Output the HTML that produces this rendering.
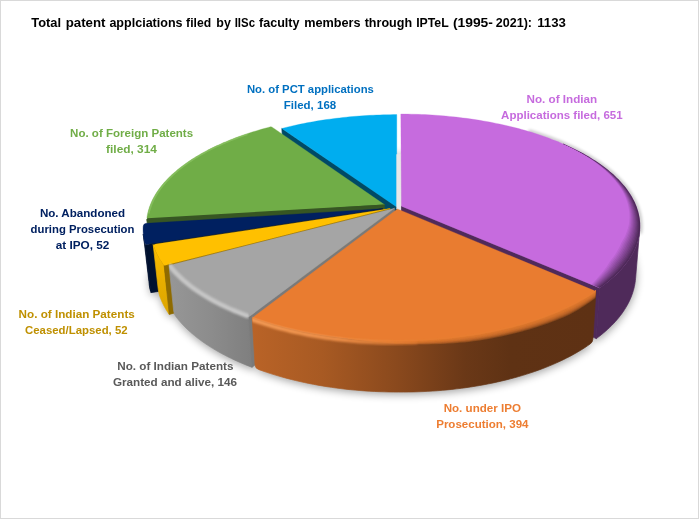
<!DOCTYPE html>
<html><head><meta charset="utf-8"><title>Chart</title>
<style>
html,body{margin:0;padding:0;background:#fff;}
body{width:699px;height:519px;position:relative;overflow:hidden;font-family:"Liberation Sans",sans-serif;}
#frame{position:absolute;left:0;top:0;width:697px;height:517px;border:1px solid #D9D9D9;}
</style></head><body>
<svg width="699" height="519" viewBox="0 0 699 519" style="position:absolute;left:0;top:0">
<defs>
<filter id="shb" x="-20%" y="-30%" width="140%" height="160%"><feGaussianBlur stdDeviation="4"/></filter>
<filter id="b05" x="-10%" y="-10%" width="120%" height="120%"><feGaussianBlur stdDeviation="0.5"/></filter>
<filter id="b1" x="-10%" y="-10%" width="120%" height="120%"><feGaussianBlur stdDeviation="0.8"/></filter>
<filter id="b2" x="-10%" y="-10%" width="120%" height="120%"><feGaussianBlur stdDeviation="1.6"/></filter>
<filter id="b3" x="-10%" y="-10%" width="120%" height="120%"><feGaussianBlur stdDeviation="2.6"/></filter>
<linearGradient id="gOr" gradientUnits="userSpaceOnUse" x1="253" y1="0" x2="596" y2="0">
 <stop offset="0" stop-color="#B96327"/><stop offset="0.2" stop-color="#A85A23"/><stop offset="0.42" stop-color="#8A491D"/><stop offset="0.62" stop-color="#6A3817"/><stop offset="0.75" stop-color="#5F3214"/><stop offset="1" stop-color="#5E3114"/></linearGradient>
<linearGradient id="gOrHi" gradientUnits="userSpaceOnUse" x1="253" y1="0" x2="596" y2="0">
 <stop offset="0" stop-color="#F39A55" stop-opacity="1"/><stop offset="0.25" stop-color="#F0914A" stop-opacity="0.95"/><stop offset="0.42" stop-color="#EC8438" stop-opacity="0.7"/><stop offset="0.55" stop-color="#E97C30" stop-opacity="0"/></linearGradient>
<linearGradient id="gOrDk" gradientUnits="userSpaceOnUse" x1="253" y1="0" x2="596" y2="0">
 <stop offset="0.45" stop-color="#6A3817" stop-opacity="0"/><stop offset="0.62" stop-color="#643516" stop-opacity="0.8"/><stop offset="1" stop-color="#5E3114" stop-opacity="1"/></linearGradient>
<linearGradient id="gGr" gradientUnits="userSpaceOnUse" x1="168" y1="0" x2="254" y2="0">
 <stop offset="0" stop-color="#979797"/><stop offset="0.5" stop-color="#8C8C8C"/><stop offset="1" stop-color="#7E7E7E"/></linearGradient>
<linearGradient id="gYe" gradientUnits="userSpaceOnUse" x1="0" y1="246" x2="0" y2="315">
 <stop offset="0" stop-color="#FBBC00"/><stop offset="0.5" stop-color="#E8AE00"/><stop offset="1" stop-color="#DCA500"/></linearGradient>
<linearGradient id="gPuDk" gradientUnits="userSpaceOnUse" x1="520" y1="0" x2="640" y2="0">
 <stop offset="0" stop-color="#4F2A5A" stop-opacity="0"/><stop offset="0.6" stop-color="#4F2A5A" stop-opacity="0.85"/><stop offset="1" stop-color="#4F2A5A" stop-opacity="1"/></linearGradient>

<clipPath id="cPu"><path d="M401.49 206.24 L400.81 113.92 L404.30 113.93 L407.79 113.97 L411.28 114.03 L414.77 114.11 L418.25 114.22 L421.74 114.35 L425.22 114.51 L428.69 114.69 L432.17 114.89 L435.63 115.12 L439.09 115.37 L442.55 115.64 L446.00 115.94 L449.44 116.26 L452.87 116.61 L456.29 116.98 L459.70 117.38 L463.11 117.79 L466.50 118.23 L469.88 118.70 L473.25 119.19 L476.61 119.70 L479.95 120.24 L483.28 120.80 L486.60 121.38 L489.90 121.99 L493.19 122.62 L496.46 123.28 L499.71 123.95 L502.94 124.66 L506.16 125.38 L509.35 126.13 L512.53 126.90 L515.69 127.70 L518.82 128.52 L521.94 129.36 L525.03 130.22 L528.10 131.11 L531.14 132.02 L534.16 132.95 L537.16 133.91 L540.12 134.89 L543.07 135.89 L545.98 136.92 L548.87 137.97 L551.72 139.04 L554.55 140.13 L557.35 141.24 L560.11 142.38 L562.84 143.54 L565.55 144.72 L568.21 145.93 L570.84 147.15 L573.44 148.40 L576.00 149.67 L578.53 150.96 L581.01 152.27 L583.46 153.60 L585.87 154.95 L588.24 156.33 L590.57 157.72 L592.86 159.14 L595.10 160.57 L597.30 162.03 L599.46 163.50 L601.57 165.00 L603.63 166.51 L605.65 168.04 L607.62 169.60 L609.54 171.17 L611.41 172.76 L613.23 174.37 L615.00 175.99 L616.72 177.64 L618.38 179.30 L619.99 180.98 L621.55 182.67 L623.05 184.39 L624.49 186.11 L625.88 187.86 L627.21 189.62 L628.48 191.39 L629.68 193.18 L630.83 194.99 L631.92 196.80 L632.94 198.64 L633.90 200.48 L634.79 202.34 L635.62 204.21 L636.38 206.09 L637.08 207.99 L637.71 209.89 L638.27 211.81 L638.76 213.73 L639.18 215.67 L639.53 217.61 L639.80 219.56 L640.01 221.52 L640.14 223.49 L640.20 225.46 L640.18 227.44 L640.09 229.43 L639.92 231.42 L639.67 233.41 L639.35 235.41 L638.95 237.41 L638.47 239.42 L637.91 241.42 L637.27 243.43 L636.55 245.43 L635.75 247.44 L634.87 249.44 L633.91 251.45 L632.87 253.45 L631.75 255.44 L630.54 257.43 L629.25 259.42 L627.87 261.40 L626.42 263.37 L624.88 265.34 L623.26 267.30 L621.55 269.25 L619.76 271.18 L617.89 273.11 L615.93 275.03 L613.89 276.93 L611.77 278.82 L609.56 280.69 L607.27 282.55 L604.90 284.40 L602.44 286.22 L599.91 288.03 Z"/></clipPath>
<clipPath id="cGn"><path d="M384.37 204.60 L146.72 219.25 L146.96 217.32 L147.27 215.39 L147.66 213.48 L148.11 211.57 L148.64 209.67 L149.23 207.78 L149.89 205.90 L150.61 204.03 L151.40 202.17 L152.26 200.33 L153.18 198.49 L154.16 196.67 L155.21 194.86 L156.32 193.07 L157.48 191.29 L158.71 189.52 L160.00 187.77 L161.34 186.04 L162.75 184.31 L164.20 182.61 L165.72 180.92 L167.29 179.25 L168.91 177.59 L170.59 175.95 L172.31 174.33 L174.09 172.72 L175.92 171.13 L177.80 169.56 L179.73 168.01 L181.70 166.48 L183.72 164.97 L185.79 163.47 L187.91 161.99 L190.06 160.54 L192.26 159.10 L194.51 157.68 L196.79 156.29 L199.12 154.91 L201.48 153.55 L203.89 152.21 L206.33 150.90 L208.81 149.60 L211.33 148.33 L213.89 147.07 L216.48 145.84 L219.10 144.63 L221.76 143.44 L224.45 142.27 L227.17 141.13 L229.93 140.00 L232.71 138.90 L235.53 137.82 L238.37 136.76 L241.24 135.73 L244.14 134.71 L247.07 133.72 L250.02 132.75 L253.00 131.80 L256.00 130.88 L259.03 129.98 L262.08 129.10 L265.15 128.24 L268.25 127.41 L271.37 126.60 Z"/></clipPath>
<clipPath id="cGrW"><path d="M248.46 309.87 L244.71 308.51 L241.03 307.11 L237.42 305.68 L233.87 304.22 L230.39 302.73 L226.98 301.22 L223.65 299.67 L220.38 298.10 L217.19 296.50 L214.08 294.88 L211.04 293.23 L208.08 291.56 L205.19 289.87 L202.38 288.16 L199.65 286.42 L197.00 284.67 L194.43 282.89 L191.93 281.10 L189.52 279.29 L187.19 277.47 L184.94 275.63 L182.77 273.77 L180.68 271.90 L178.67 270.02 L176.74 268.13 L174.90 266.22 L173.13 264.30 L171.45 262.38 L169.85 260.44 L168.34 258.50 L174.00 314.03 L175.47 316.05 L177.03 318.06 L178.66 320.06 L180.37 322.05 L182.16 324.03 L184.03 326.00 L185.98 327.95 L188.01 329.89 L190.12 331.82 L192.31 333.73 L194.58 335.62 L196.93 337.50 L199.35 339.36 L201.86 341.20 L204.44 343.01 L207.10 344.81 L209.83 346.59 L212.64 348.34 L215.53 350.07 L218.49 351.78 L221.52 353.46 L224.63 355.11 L227.81 356.74 L231.06 358.34 L234.38 359.91 L237.77 361.45 L241.23 362.96 L244.76 364.44 L248.35 365.88 L252.00 367.30 Z"/></clipPath>
<clipPath id="cOrAll"><path d="M596.02 289.78 L593.39 291.58 L590.68 293.36 L587.88 295.12 L585.01 296.86 L582.06 298.57 L579.02 300.26 L575.91 301.93 L572.73 303.57 L569.47 305.18 L566.13 306.77 L562.72 308.33 L559.24 309.86 L555.68 311.36 L552.06 312.83 L548.36 314.26 L544.60 315.67 L540.77 317.04 L536.88 318.38 L532.92 319.69 L528.90 320.95 L524.82 322.19 L520.67 323.38 L516.48 324.54 L512.22 325.66 L507.91 326.73 L503.55 327.77 L499.14 328.77 L494.69 329.73 L490.18 330.64 L485.63 331.51 L481.04 332.34 L476.41 333.13 L471.74 333.87 L467.03 334.57 L462.29 335.22 L457.52 335.83 L452.72 336.39 L447.89 336.90 L443.04 337.37 L438.16 337.79 L433.27 338.16 L428.35 338.48 L423.43 338.76 L418.48 338.99 L413.53 339.17 L408.57 339.31 L403.61 339.39 L398.64 339.43 L393.67 339.41 L388.71 339.35 L383.74 339.24 L378.79 339.08 L373.84 338.88 L368.90 338.62 L363.98 338.32 L359.08 337.97 L354.19 337.57 L349.33 337.13 L344.49 336.64 L339.67 336.10 L334.88 335.51 L330.13 334.88 L325.40 334.21 L320.72 333.49 L316.06 332.72 L311.45 331.91 L306.88 331.06 L302.35 330.17 L297.87 329.23 L293.44 328.25 L289.05 327.23 L284.72 326.17 L280.44 325.07 L276.21 323.93 L272.04 322.75 L267.93 321.54 L263.88 320.29 L259.89 319.00 L255.97 317.68 L252.10 316.32 L255.23 368.23 L259.00 369.63 L262.84 371.00 L266.74 372.32 L270.70 373.61 L274.72 374.86 L278.80 376.08 L282.93 377.25 L287.12 378.38 L291.36 379.47 L295.65 380.52 L299.99 381.53 L304.37 382.50 L308.80 383.42 L313.27 384.30 L317.79 385.13 L322.34 385.92 L326.93 386.66 L331.55 387.35 L336.20 388.00 L340.89 388.60 L345.60 389.16 L350.34 389.66 L355.10 390.12 L359.88 390.53 L364.68 390.89 L369.50 391.20 L374.33 391.46 L379.17 391.68 L384.02 391.84 L388.88 391.95 L393.74 392.02 L398.61 392.05 L403.50 392.05 L408.39 392.01 L413.27 391.92 L418.14 391.78 L423.01 391.59 L427.86 391.35 L432.69 391.06 L437.51 390.72 L442.31 390.33 L447.08 389.89 L451.83 389.41 L456.56 388.87 L461.25 388.29 L465.91 387.66 L470.54 386.98 L475.14 386.26 L479.69 385.49 L484.21 384.67 L488.69 383.81 L493.12 382.90 L497.50 381.95 L501.84 380.95 L506.13 379.92 L510.36 378.84 L514.54 377.71 L518.67 376.55 L522.74 375.35 L526.75 374.10 L530.71 372.82 L534.60 371.50 L538.43 370.14 L542.19 368.75 L545.89 367.32 L549.52 365.85 L553.08 364.36 L556.57 362.82 L559.99 361.26 L563.34 359.66 L566.62 358.03 L569.83 356.38 L572.95 354.69 L576.01 352.98 L578.98 351.24 L581.88 349.47 L584.71 347.68 L587.45 345.86 L590.11 344.02 L592.70 342.16 Z"/></clipPath></defs>
<g opacity="0.36" filter="url(#shb)" transform="translate(0.5,2.5)">
<path d="M401.41 252.66 L400.74 151.46 L404.18 151.47 L407.61 151.51 L411.04 151.58 L414.47 151.67 L417.89 151.79 L421.32 151.94 L424.74 152.11 L428.15 152.31 L431.57 152.54 L434.97 152.79 L438.37 153.07 L441.77 153.38 L445.16 153.71 L448.54 154.07 L451.91 154.45 L455.27 154.86 L458.63 155.30 L461.97 155.77 L465.31 156.26 L468.63 156.78 L471.94 157.32 L475.24 157.89 L478.52 158.49 L481.80 159.11 L485.05 159.76 L488.30 160.43 L491.52 161.13 L494.73 161.86 L497.93 162.61 L501.10 163.39 L504.26 164.19 L507.40 165.02 L510.52 165.88 L513.62 166.76 L516.70 167.66 L519.76 168.59 L522.80 169.55 L525.81 170.53 L528.80 171.54 L531.76 172.57 L534.70 173.63 L537.62 174.71 L540.50 175.82 L543.36 176.95 L546.20 178.11 L549.00 179.29 L551.78 180.50 L554.52 181.73 L557.23 182.98 L559.92 184.26 L562.57 185.56 L565.18 186.88 L567.77 188.23 L570.31 189.60 L572.83 191.00 L575.30 192.41 L577.74 193.85 L580.14 195.32 L582.51 196.80 L584.83 198.31 L587.11 199.84 L589.36 201.39 L591.56 202.96 L593.71 204.56 L595.83 206.17 L597.90 207.81 L599.92 209.46 L601.90 211.14 L603.83 212.84 L605.71 214.55 L607.55 216.29 L609.33 218.04 L611.07 219.82 L612.75 221.61 L614.38 223.42 L615.96 225.25 L617.48 227.09 L618.95 228.96 L620.37 230.84 L621.73 232.73 L623.03 234.64 L624.27 236.57 L625.45 238.51 L626.57 240.47 L627.64 242.44 L628.64 244.43 L629.58 246.43 L630.45 248.44 L631.26 250.47 L632.01 252.50 L632.69 254.54 L633.31 256.56 L633.86 258.59 L634.34 260.64 L634.75 262.69 L635.10 264.76 L635.37 266.83 L635.57 268.90 L635.70 270.99 L635.76 273.08 L635.74 275.17 L635.65 277.27 L635.49 279.38 L635.25 281.49 L634.93 283.60 L634.54 285.71 L634.07 287.82 L633.53 289.94 L632.90 292.05 L632.20 294.16 L631.42 296.27 L630.55 298.38 L629.61 300.48 L628.59 302.58 L627.49 304.67 L626.31 306.76 L625.04 308.84 L623.70 310.91 L622.27 312.98 L620.76 315.03 L619.17 317.08 L617.50 319.11 L615.74 321.13 L613.91 323.14 L611.99 325.13 L609.99 327.11 L607.91 329.07 L605.74 331.02 L603.50 332.95 L601.17 334.86 L598.76 336.75 L596.28 338.62 Z" fill="#000"  />
<path d="M397.41 255.48 L592.70 342.16 L590.11 344.02 L587.45 345.86 L584.71 347.68 L581.88 349.47 L578.98 351.24 L576.01 352.98 L572.95 354.69 L569.83 356.38 L566.62 358.03 L563.34 359.66 L559.99 361.26 L556.57 362.82 L553.08 364.36 L549.52 365.85 L545.89 367.32 L542.19 368.75 L538.43 370.14 L534.60 371.50 L530.71 372.82 L526.75 374.10 L522.74 375.35 L518.67 376.55 L514.54 377.71 L510.36 378.84 L506.13 379.92 L501.84 380.95 L497.50 381.95 L493.12 382.90 L488.69 383.81 L484.21 384.67 L479.69 385.49 L475.14 386.26 L470.54 386.98 L465.91 387.66 L461.25 388.29 L456.56 388.87 L451.83 389.41 L447.08 389.89 L442.31 390.33 L437.51 390.72 L432.69 391.06 L427.86 391.35 L423.01 391.59 L418.14 391.78 L413.27 391.92 L408.39 392.01 L403.50 392.05 L398.61 392.05 L393.74 392.02 L388.88 391.95 L384.02 391.84 L379.17 391.68 L374.33 391.46 L369.50 391.20 L364.68 390.89 L359.88 390.53 L355.10 390.12 L350.34 389.66 L345.60 389.16 L340.89 388.60 L336.20 388.00 L331.55 387.35 L326.93 386.66 L322.34 385.92 L317.79 385.13 L313.27 384.30 L308.80 383.42 L304.37 382.50 L299.99 381.53 L295.65 380.52 L291.36 379.47 L287.12 378.38 L282.93 377.25 L278.80 376.08 L274.72 374.86 L270.70 373.61 L266.74 372.32 L262.84 371.00 L259.00 369.63 L255.23 368.23 Z" fill="#000"  />
<path d="M394.51 254.80 L252.00 367.30 L248.35 365.88 L244.76 364.44 L241.23 362.96 L237.77 361.45 L234.38 359.91 L231.06 358.34 L227.81 356.74 L224.63 355.11 L221.52 353.46 L218.49 351.78 L215.53 350.07 L212.64 348.34 L209.83 346.59 L207.10 344.81 L204.44 343.01 L201.86 341.20 L199.35 339.36 L196.93 337.50 L194.58 335.62 L192.31 333.73 L190.12 331.82 L188.01 329.89 L185.98 327.95 L184.03 326.00 L182.16 324.03 L180.37 322.05 L178.66 320.06 L177.03 318.06 L175.47 316.05 L174.00 314.03 Z" fill="#000"  />
<path d="M390.27 255.10 L169.26 314.39 L167.92 312.42 L166.65 310.44 L165.46 308.45 L164.34 306.46 L163.30 304.47 L162.33 302.47 L161.44 300.47 L160.62 298.47 L159.87 296.47 L159.20 294.46 L158.59 292.45 Z" fill="#000"  />
<path d="M382.99 255.26 L150.83 292.63 L150.32 290.62 L149.89 288.62 L149.52 286.61 L149.23 284.61 L149.00 282.61 L148.84 280.62 L148.76 278.62 L148.74 276.64 L148.78 274.65 L148.90 272.68 L149.08 270.71 Z" fill="#000"  />
<path d="M384.65 250.88 L152.36 266.25 L152.61 264.23 L152.92 262.23 L153.30 260.23 L153.76 258.25 L154.28 256.27 L154.86 254.30 L155.51 252.29 L156.21 250.27 L156.98 248.25 L157.82 246.25 L158.71 244.26 L159.67 242.28 L160.69 240.32 L161.77 238.37 L162.91 236.44 L164.11 234.52 L165.36 232.61 L166.68 230.72 L168.04 228.84 L169.47 226.99 L170.94 225.14 L172.47 223.32 L174.06 221.51 L175.69 219.72 L177.37 217.95 L179.11 216.19 L180.89 214.46 L182.73 212.74 L184.61 211.05 L186.53 209.37 L188.51 207.71 L190.52 206.07 L192.59 204.45 L194.69 202.86 L196.84 201.28 L199.03 199.72 L201.26 198.19 L203.53 196.68 L205.84 195.18 L208.19 193.71 L210.57 192.27 L212.99 190.84 L215.45 189.44 L217.95 188.06 L220.48 186.70 L223.04 185.37 L225.63 184.05 L228.26 182.77 L230.92 181.50 L233.61 180.26 L236.33 179.04 L239.08 177.85 L241.86 176.68 L244.67 175.53 L247.50 174.41 L250.36 173.31 L253.24 172.24 L256.15 171.19 L259.09 170.17 L262.05 169.17 L265.03 168.19 L268.03 167.25 L271.06 166.32 L274.10 165.42 Z" fill="#000"  />
<path d="M396.77 253.50 L284.33 167.47 L287.33 166.61 L290.35 165.77 L293.38 164.96 L296.43 164.17 L299.50 163.41 L302.58 162.67 L305.69 161.96 L308.80 161.27 L311.94 160.60 L315.08 159.96 L318.24 159.35 L321.42 158.75 L324.60 158.19 L327.80 157.65 L331.01 157.13 L334.23 156.64 L337.47 156.17 L340.71 155.73 L343.96 155.32 L347.22 154.93 L350.49 154.56 L353.76 154.22 L357.04 153.90 L360.33 153.61 L363.63 153.35 L366.93 153.11 L370.23 152.89 L373.54 152.71 L376.85 152.54 L380.17 152.40 L383.49 152.29 L386.81 152.20 L390.13 152.14 L393.46 152.10 L396.78 152.09 Z" fill="#000"  />
</g>
<path d="M396.76 207.01 L281.82 128.44 L284.33 167.47 L396.77 253.50 Z" fill="#004A66" stroke="#004A66" stroke-width="0.7" stroke-linejoin="round" />
<path d="M396.76 207.01 L282.65 129.01 Q281.82 128.44 282.79 128.20 L284.89 127.67 L287.97 126.91 L291.07 126.18 L294.19 125.47 L297.33 124.78 L300.49 124.12 L303.66 123.47 L306.85 122.85 L310.05 122.25 L313.27 121.68 L316.50 121.12 L319.75 120.59 L323.00 120.08 L326.27 119.60 L329.56 119.13 L332.85 118.69 L336.15 118.27 L339.47 117.88 L342.79 117.50 L346.12 117.15 L349.46 116.82 L352.81 116.52 L356.17 116.23 L359.53 115.97 L362.89 115.73 L366.27 115.52 L369.65 115.33 L373.03 115.16 L376.41 115.01 L379.80 114.88 L383.20 114.78 L386.59 114.70 L389.99 114.65 L393.38 114.61 L396.78 114.60 Z" fill="#00ADEF" stroke="#00ADEF" stroke-width="0.3" stroke-linejoin="round" />
<path d="M396.78 154.5 L401.11 154.5 L401.11 210 L396.78 209 Z" fill="#E8E8E8" stroke="#E8E8E8" stroke-width="0.7" stroke-linejoin="round" />
<path d="M528.48 130.97 L531.48 131.87 L534.47 132.80 L537.43 133.74 L540.36 134.71 L543.27 135.70 L546.15 136.71 L549.00 137.75 L551.83 138.80 L554.63 139.88 L557.39 140.98 L560.13 142.10 L562.84 143.24 L565.51 144.41 L568.15 145.59 L570.76 146.80 L573.33 148.03 L575.87 149.27 L578.38 150.54 L580.84 151.83 L583.27 153.15 L585.66 154.48 L588.02 155.83 L590.33 157.20 L592.60 158.59 L594.83 160.00 L597.02 161.44 L599.17 162.89 L601.27 164.36 L603.33 165.85 L605.34 167.35 L607.31 168.88 L609.23 170.43 L611.10 171.99 L612.93 173.57 L614.70 175.17 L616.42 176.79 L618.09 178.42 L619.71 180.07 L621.28 181.74 L622.79 183.42 L624.25 185.12 L625.66 186.84 L627.00 188.57 L628.29 190.31 L629.52 192.07 L630.69 193.85 L631.81 195.64 L632.86 197.44 L633.85 199.25 L634.78 201.08 L635.64 202.92 L636.44 204.77 L637.18 206.64 L637.85 208.51 L638.45 210.40 L638.99 212.29 L639.46 214.20 L639.86 216.11 L640.19 218.04 L640.46 219.97 L640.65 221.91 L640.77 223.85 L640.81 225.80 L640.79 227.76 L640.69 229.73 L640.51 231.69 L640.27 233.67" fill="none" stroke="#000" stroke-width="3.2" stroke-linecap="butt" filter="url(#b2)" opacity="0.22"/>
<path d="M639.64 230.36 L639.44 232.32 L639.16 234.28 L638.81 236.25 L638.38 238.21 L637.88 240.18 L637.29 242.15 L636.64 244.12 L635.90 246.09 L635.09 248.06 L634.20 250.03 L633.23 251.99 L632.18 253.95 L631.05 255.91 L629.84 257.87 L628.55 259.82 L627.18 261.76 L625.73 263.70 L624.20 265.63 L622.59 267.55 L620.90 269.46 L619.13 271.36 L617.28 273.25 L615.34 275.13 L613.33 277.00 L611.24 278.85 L609.06 280.69 L606.81 282.52 L604.48 284.32 L602.06 286.12 L599.57 287.89 L596.28 338.62 L598.72 336.78 L601.09 334.92 L603.39 333.04 L605.60 331.14 L607.73 329.23 L609.79 327.30 L611.76 325.36 L613.66 323.40 L615.48 321.42 L617.22 319.44 L618.88 317.44 L620.46 315.43 L621.96 313.41 L623.38 311.38 L624.72 309.35 L625.98 307.30 L627.17 305.25 L628.28 303.19 L629.31 301.13 L630.26 299.06 L631.13 296.99 L631.93 294.92 L632.65 292.84 L633.29 290.76 L633.86 288.68 L634.35 286.60 L634.77 284.53 L635.11 282.45 L635.38 280.38 L635.58 278.30 Z" fill="#4F2A5A" stroke="#4F2A5A" stroke-width="0.7" stroke-linejoin="round" />
<path d="M401.49 206.24 L599.57 287.89 L596.28 338.62 L401.41 252.66 Z" fill="#4F2A5A" stroke="#4F2A5A" stroke-width="0.7" stroke-linejoin="round" />
<path d="M401.49 206.24 L400.81 114.04 L404.29 114.05 L407.78 114.09 L411.27 114.15 L414.75 114.23 L418.23 114.34 L421.71 114.47 L425.19 114.62 L428.66 114.80 L432.13 115.01 L435.59 115.23 L439.05 115.48 L442.50 115.76 L445.94 116.06 L449.37 116.38 L452.80 116.73 L456.22 117.10 L459.63 117.49 L463.03 117.91 L466.42 118.35 L469.80 118.81 L473.16 119.30 L476.51 119.81 L479.85 120.35 L483.18 120.91 L486.49 121.49 L489.79 122.10 L493.07 122.73 L496.33 123.38 L499.58 124.06 L502.81 124.76 L506.02 125.49 L509.21 126.23 L512.39 127.01 L515.54 127.80 L518.67 128.62 L521.78 129.46 L524.87 130.32 L527.93 131.21 L530.97 132.12 L533.99 133.05 L536.98 134.01 L539.94 134.99 L542.88 135.99 L545.79 137.01 L548.67 138.06 L551.52 139.13 L554.34 140.22 L557.14 141.33 L559.90 142.47 L562.63 143.63 L565.32 144.81 L567.99 146.01 L570.62 147.23 L573.21 148.48 L575.77 149.74 L578.29 151.03 L580.77 152.34 L583.21 153.67 L585.62 155.02 L587.98 156.39 L590.31 157.79 L592.59 159.20 L594.83 160.63 L597.03 162.09 L599.18 163.56 L601.29 165.05 L603.35 166.57 L605.36 168.10 L607.33 169.65 L609.24 171.22 L611.11 172.81 L612.93 174.41 L614.70 176.04 L616.41 177.68 L618.07 179.34 L619.68 181.01 L621.23 182.71 L622.73 184.42 L624.17 186.14 L625.55 187.88 L626.88 189.64 L628.14 191.41 L629.35 193.20 L630.49 195.00 L631.58 196.82 L632.60 198.65 L633.55 200.49 L634.45 202.35 L635.27 204.21 L636.03 206.09 L636.73 207.98 L637.35 209.89 L637.91 211.80 L638.40 213.72 L638.82 215.65 L639.16 217.59 L639.44 219.54 L639.64 221.50 L639.77 223.46 L639.83 225.43 L639.81 227.41 L639.71 229.39 L639.54 231.38 L639.30 233.37 L638.97 235.37 L638.57 237.36 L638.09 239.36 L637.53 241.37 L636.90 243.37 L636.18 245.37 L635.38 247.37 L634.50 249.37 L633.54 251.37 L632.50 253.37 L631.37 255.36 L630.17 257.35 L628.88 259.33 L627.51 261.31 L626.05 263.28 L624.51 265.24 L622.89 267.20 L621.19 269.14 L619.40 271.08 L617.53 273.00 L615.57 274.91 L613.54 276.81 L611.41 278.70 L609.21 280.57 L606.92 282.43 L604.55 284.26 L602.10 286.09 L599.57 287.89 Z" fill="#C66BDE" stroke="#C66BDE" stroke-width="0.3" stroke-linejoin="round" />
<g clip-path="url(#cPu)">
<g filter="url(#b05)">
<path d="M567.09 141.99 L569.86 143.20 L572.60 144.43 L575.31 145.69 L577.98 146.96 L580.62 148.26 L583.21 149.58 L585.77 150.92 L588.29 152.28 L590.77 153.67 L593.21 155.08 L595.61 156.50 L597.97 157.95 L600.28 159.42 L602.55 160.91 L604.77 162.43 L606.95 163.96 L609.08 165.51 L611.16 167.08 L613.20 168.67 L615.18 170.28 L617.12 171.91 L619.00 173.56 L620.83 175.23 L622.61 176.92 L624.34 178.62 L626.00 180.34 L627.62 182.08 L629.17 183.84 L630.67 185.61 L632.11 187.40 L633.49 189.21 L634.81 191.03 L636.07 192.87 L637.27 194.72 L638.40 196.59 L639.47 198.47 L640.47 200.37 L641.41 202.28 L642.28 204.20 L643.09 206.13 L643.82 208.08 L644.49 210.04 L645.08 212.01 L645.60 213.99 L646.06 215.98 L646.43 217.98 L646.74 219.99 L646.97 222.01 L647.13 224.03 L647.20 226.07 L647.21 228.10 L647.13 230.15 L646.98 232.20 L646.75 234.26 L646.44 236.32 L646.04 238.38 L645.57 240.44 L645.02 242.51 L644.38 244.58 L643.66 246.65 L642.86 248.72 L641.98 250.79 L641.01 252.85 L639.95 254.92 L638.82 256.98 L637.59 259.03 L636.28 261.09 L634.89 263.13 L633.41 265.17 L631.84 267.20 L630.19 269.23 L628.45 271.24 L626.62 273.24 L624.71 275.24 L622.71 277.22 L620.63 279.19 L618.46 281.14 L616.20 283.08 L613.85 285.01 L611.42 286.92 L608.91 288.81 L606.31 290.68 L603.63 292.53 L600.86 294.36 L587.21 288.33 L589.31 286.42 L591.33 284.50 L593.25 282.57 L595.09 280.64 L596.84 278.70 L598.52 276.76 L600.24 274.85 L601.86 272.94 L603.41 271.03 L604.87 269.11 L606.25 267.18 L607.55 265.25 L608.76 263.33 L609.94 261.41 L611.41 259.58 L612.81 257.75 L614.14 255.91 L615.38 254.07 L616.55 252.22 L617.65 250.36 L618.66 248.50 L619.60 246.64 L620.47 244.78 L621.29 242.92 L622.38 241.11 L623.39 239.29 L624.33 237.47 L625.19 235.64 L625.98 233.80 L626.69 231.96 L627.33 230.12 L627.90 228.28 L628.39 226.43 L628.81 224.58 L629.07 222.72 L629.26 220.87 L629.37 219.02 L629.42 217.17 L629.39 215.32 L629.29 213.47 L629.13 211.63 L628.89 209.80 L628.58 207.97 L628.21 206.14 L627.76 204.32 L627.25 202.51 L626.68 200.71 L626.03 198.91 L625.32 197.12 L624.55 195.34 L623.71 193.57 L622.81 191.81 L621.84 190.06 L620.81 188.33 L619.67 186.60 L618.46 184.89 L617.19 183.19 L615.87 181.51 L614.49 179.84 L613.05 178.18 L611.55 176.54 L610.00 174.91 L608.40 173.30 L606.74 171.70 L605.03 170.12 L603.26 168.56 L601.45 167.01 L599.58 165.47 L597.66 163.96 L595.69 162.46 L593.68 160.98 L591.62 159.51 L589.44 158.09 L587.22 156.68 L584.95 155.29 L582.64 153.92 L580.29 152.57 L577.90 151.23 L575.47 149.92 L573.00 148.63 L570.50 147.36 L567.95 146.11 L565.37 144.88 L562.75 143.68 Z" fill="#BA64D1"/>
<path d="M567.09 141.99 L569.86 143.20 L572.60 144.43 L575.31 145.69 L577.98 146.96 L580.62 148.26 L583.21 149.58 L585.77 150.92 L588.29 152.28 L590.77 153.67 L593.21 155.08 L595.61 156.50 L597.97 157.95 L600.28 159.42 L602.55 160.91 L604.77 162.43 L606.95 163.96 L609.08 165.51 L611.16 167.08 L613.20 168.67 L615.18 170.28 L617.12 171.91 L619.00 173.56 L620.83 175.23 L622.61 176.92 L624.34 178.62 L626.00 180.34 L627.62 182.08 L629.17 183.84 L630.67 185.61 L632.11 187.40 L633.49 189.21 L634.81 191.03 L636.07 192.87 L637.27 194.72 L638.40 196.59 L639.47 198.47 L640.47 200.37 L641.41 202.28 L642.28 204.20 L643.09 206.13 L643.82 208.08 L644.49 210.04 L645.08 212.01 L645.60 213.99 L646.06 215.98 L646.43 217.98 L646.74 219.99 L646.97 222.01 L647.13 224.03 L647.20 226.07 L647.21 228.10 L647.13 230.15 L646.98 232.20 L646.75 234.26 L646.44 236.32 L646.04 238.38 L645.57 240.44 L645.02 242.51 L644.38 244.58 L643.66 246.65 L642.86 248.72 L641.98 250.79 L641.01 252.85 L639.95 254.92 L638.82 256.98 L637.59 259.03 L636.28 261.09 L634.89 263.13 L633.41 265.17 L631.84 267.20 L630.19 269.23 L628.45 271.24 L626.62 273.24 L624.71 275.24 L622.71 277.22 L620.63 279.19 L618.46 281.14 L616.20 283.08 L613.85 285.01 L611.42 286.92 L608.91 288.81 L606.31 290.68 L603.63 292.53 L600.86 294.36 L587.91 288.64 L590.07 286.74 L592.15 284.84 L594.13 282.92 L596.03 281.00 L597.85 279.07 L599.59 277.14 L601.35 275.24 L603.02 273.33 L604.62 271.41 L606.13 269.49 L607.56 267.57 L608.90 265.64 L610.17 263.71 L611.39 261.79 L612.87 259.95 L614.27 258.11 L615.60 256.26 L616.85 254.40 L618.03 252.53 L619.12 250.67 L620.14 248.79 L621.09 246.92 L621.95 245.04 L622.77 243.16 L623.82 241.33 L624.80 239.50 L625.70 237.66 L626.52 235.81 L627.28 233.96 L627.95 232.11 L628.55 230.25 L629.08 228.39 L629.53 226.53 L629.91 224.67 L630.14 222.80 L630.29 220.94 L630.38 219.07 L630.39 217.21 L630.33 215.35 L630.20 213.50 L630.01 211.65 L629.74 209.81 L629.40 207.97 L628.99 206.14 L628.52 204.32 L627.98 202.50 L627.37 200.69 L626.69 198.89 L625.95 197.10 L625.15 195.31 L624.28 193.54 L623.35 191.78 L622.35 190.03 L621.29 188.29 L620.12 186.56 L618.89 184.85 L617.60 183.15 L616.26 181.47 L614.85 179.79 L613.39 178.14 L611.87 176.50 L610.30 174.87 L608.68 173.26 L607.00 171.66 L605.26 170.08 L603.48 168.52 L601.64 166.97 L599.76 165.44 L597.82 163.92 L595.84 162.43 L593.80 160.95 L591.72 159.49 L589.53 158.06 L587.30 156.65 L585.03 155.27 L582.71 153.90 L580.35 152.55 L577.95 151.22 L575.51 149.91 L573.03 148.62 L570.52 147.35 L567.96 146.11 L565.37 144.88 L562.75 143.68 Z" fill="#AE5EC4"/>
<path d="M567.09 141.99 L569.86 143.20 L572.60 144.43 L575.31 145.69 L577.98 146.96 L580.62 148.26 L583.21 149.58 L585.77 150.92 L588.29 152.28 L590.77 153.67 L593.21 155.08 L595.61 156.50 L597.97 157.95 L600.28 159.42 L602.55 160.91 L604.77 162.43 L606.95 163.96 L609.08 165.51 L611.16 167.08 L613.20 168.67 L615.18 170.28 L617.12 171.91 L619.00 173.56 L620.83 175.23 L622.61 176.92 L624.34 178.62 L626.00 180.34 L627.62 182.08 L629.17 183.84 L630.67 185.61 L632.11 187.40 L633.49 189.21 L634.81 191.03 L636.07 192.87 L637.27 194.72 L638.40 196.59 L639.47 198.47 L640.47 200.37 L641.41 202.28 L642.28 204.20 L643.09 206.13 L643.82 208.08 L644.49 210.04 L645.08 212.01 L645.60 213.99 L646.06 215.98 L646.43 217.98 L646.74 219.99 L646.97 222.01 L647.13 224.03 L647.20 226.07 L647.21 228.10 L647.13 230.15 L646.98 232.20 L646.75 234.26 L646.44 236.32 L646.04 238.38 L645.57 240.44 L645.02 242.51 L644.38 244.58 L643.66 246.65 L642.86 248.72 L641.98 250.79 L641.01 252.85 L639.95 254.92 L638.82 256.98 L637.59 259.03 L636.28 261.09 L634.89 263.13 L633.41 265.17 L631.84 267.20 L630.19 269.23 L628.45 271.24 L626.62 273.24 L624.71 275.24 L622.71 277.22 L620.63 279.19 L618.46 281.14 L616.20 283.08 L613.85 285.01 L611.42 286.92 L608.91 288.81 L606.31 290.68 L603.63 292.53 L600.86 294.36 L588.61 288.95 L590.83 287.07 L592.97 285.18 L595.01 283.27 L596.97 281.36 L598.85 279.44 L600.65 277.52 L602.46 275.62 L604.19 273.71 L605.83 271.80 L607.39 269.88 L608.87 267.96 L610.26 266.03 L611.57 264.10 L612.84 262.17 L614.33 260.32 L615.74 258.46 L617.07 256.60 L618.33 254.73 L619.50 252.85 L620.60 250.97 L621.63 249.08 L622.57 247.19 L623.44 245.30 L624.26 243.41 L625.27 241.56 L626.21 239.71 L627.07 237.85 L627.86 235.99 L628.57 234.12 L629.21 232.25 L629.77 230.38 L630.26 228.51 L630.67 226.63 L631.01 224.76 L631.21 222.88 L631.33 221.00 L631.38 219.13 L631.37 217.26 L631.28 215.39 L631.12 213.53 L630.88 211.67 L630.58 209.82 L630.21 207.98 L629.78 206.14 L629.27 204.31 L628.70 202.49 L628.06 200.67 L627.35 198.87 L626.58 197.07 L625.74 195.28 L624.85 193.51 L623.88 191.74 L622.86 189.99 L621.77 188.25 L620.58 186.52 L619.32 184.81 L618.01 183.11 L616.64 181.42 L615.22 179.75 L613.73 178.09 L612.19 176.45 L610.60 174.82 L608.95 173.21 L607.25 171.62 L605.50 170.04 L603.70 168.48 L601.84 166.93 L599.93 165.40 L597.98 163.89 L595.98 162.40 L593.93 160.92 L591.83 159.46 L589.63 158.04 L587.39 156.63 L585.10 155.24 L582.78 153.88 L580.41 152.53 L578.00 151.20 L575.55 149.90 L573.07 148.61 L570.54 147.35 L567.98 146.10 L565.38 144.88 L562.75 143.68 Z" fill="#A258B6"/>
<path d="M567.09 141.99 L569.86 143.20 L572.60 144.43 L575.31 145.69 L577.98 146.96 L580.62 148.26 L583.21 149.58 L585.77 150.92 L588.29 152.28 L590.77 153.67 L593.21 155.08 L595.61 156.50 L597.97 157.95 L600.28 159.42 L602.55 160.91 L604.77 162.43 L606.95 163.96 L609.08 165.51 L611.16 167.08 L613.20 168.67 L615.18 170.28 L617.12 171.91 L619.00 173.56 L620.83 175.23 L622.61 176.92 L624.34 178.62 L626.00 180.34 L627.62 182.08 L629.17 183.84 L630.67 185.61 L632.11 187.40 L633.49 189.21 L634.81 191.03 L636.07 192.87 L637.27 194.72 L638.40 196.59 L639.47 198.47 L640.47 200.37 L641.41 202.28 L642.28 204.20 L643.09 206.13 L643.82 208.08 L644.49 210.04 L645.08 212.01 L645.60 213.99 L646.06 215.98 L646.43 217.98 L646.74 219.99 L646.97 222.01 L647.13 224.03 L647.20 226.07 L647.21 228.10 L647.13 230.15 L646.98 232.20 L646.75 234.26 L646.44 236.32 L646.04 238.38 L645.57 240.44 L645.02 242.51 L644.38 244.58 L643.66 246.65 L642.86 248.72 L641.98 250.79 L641.01 252.85 L639.95 254.92 L638.82 256.98 L637.59 259.03 L636.28 261.09 L634.89 263.13 L633.41 265.17 L631.84 267.20 L630.19 269.23 L628.45 271.24 L626.62 273.24 L624.71 275.24 L622.71 277.22 L620.63 279.19 L618.46 281.14 L616.20 283.08 L613.85 285.01 L611.42 286.92 L608.91 288.81 L606.31 290.68 L603.63 292.53 L600.86 294.36 L589.32 289.26 L591.60 287.40 L593.79 285.52 L595.90 283.63 L597.92 281.72 L599.85 279.81 L601.71 277.90 L603.57 276.00 L605.35 274.10 L607.04 272.19 L608.65 270.27 L610.18 268.35 L611.62 266.42 L612.98 264.49 L614.29 262.56 L615.78 260.69 L617.20 258.82 L618.54 256.94 L619.80 255.06 L620.98 253.16 L622.08 251.27 L623.11 249.37 L624.06 247.47 L624.93 245.56 L625.74 243.66 L626.72 241.79 L627.62 239.92 L628.45 238.04 L629.20 236.16 L629.87 234.28 L630.47 232.40 L630.99 230.51 L631.44 228.62 L631.81 226.73 L632.11 224.85 L632.28 222.96 L632.37 221.07 L632.39 219.19 L632.34 217.31 L632.22 215.43 L632.03 213.56 L631.76 211.69 L631.43 209.84 L631.03 207.98 L630.56 206.14 L630.02 204.30 L629.42 202.47 L628.75 200.66 L628.01 198.85 L627.21 197.05 L626.34 195.26 L625.41 193.48 L624.42 191.71 L623.36 189.95 L622.25 188.21 L621.03 186.48 L619.75 184.76 L618.42 183.06 L617.03 181.38 L615.58 179.70 L614.07 178.05 L612.51 176.41 L610.90 174.78 L609.23 173.17 L607.51 171.57 L605.74 170.00 L603.91 168.43 L602.04 166.89 L600.11 165.36 L598.14 163.86 L596.12 162.36 L594.05 160.89 L591.93 159.44 L589.73 158.01 L587.47 156.61 L585.18 155.22 L582.84 153.86 L580.47 152.51 L578.05 151.19 L575.59 149.89 L573.10 148.60 L570.56 147.34 L567.99 146.10 L565.39 144.88 L562.75 143.68 Z" fill="#9651A9"/>
<path d="M567.09 141.99 L569.86 143.20 L572.60 144.43 L575.31 145.69 L577.98 146.96 L580.62 148.26 L583.21 149.58 L585.77 150.92 L588.29 152.28 L590.77 153.67 L593.21 155.08 L595.61 156.50 L597.97 157.95 L600.28 159.42 L602.55 160.91 L604.77 162.43 L606.95 163.96 L609.08 165.51 L611.16 167.08 L613.20 168.67 L615.18 170.28 L617.12 171.91 L619.00 173.56 L620.83 175.23 L622.61 176.92 L624.34 178.62 L626.00 180.34 L627.62 182.08 L629.17 183.84 L630.67 185.61 L632.11 187.40 L633.49 189.21 L634.81 191.03 L636.07 192.87 L637.27 194.72 L638.40 196.59 L639.47 198.47 L640.47 200.37 L641.41 202.28 L642.28 204.20 L643.09 206.13 L643.82 208.08 L644.49 210.04 L645.08 212.01 L645.60 213.99 L646.06 215.98 L646.43 217.98 L646.74 219.99 L646.97 222.01 L647.13 224.03 L647.20 226.07 L647.21 228.10 L647.13 230.15 L646.98 232.20 L646.75 234.26 L646.44 236.32 L646.04 238.38 L645.57 240.44 L645.02 242.51 L644.38 244.58 L643.66 246.65 L642.86 248.72 L641.98 250.79 L641.01 252.85 L639.95 254.92 L638.82 256.98 L637.59 259.03 L636.28 261.09 L634.89 263.13 L633.41 265.17 L631.84 267.20 L630.19 269.23 L628.45 271.24 L626.62 273.24 L624.71 275.24 L622.71 277.22 L620.63 279.19 L618.46 281.14 L616.20 283.08 L613.85 285.01 L611.42 286.92 L608.91 288.81 L606.31 290.68 L603.63 292.53 L600.86 294.36 L590.02 289.57 L592.36 287.72 L594.61 285.86 L596.78 283.98 L598.86 282.09 L600.86 280.19 L602.78 278.28 L604.69 276.39 L606.51 274.49 L608.25 272.58 L609.91 270.66 L611.49 268.74 L612.98 266.81 L614.39 264.88 L615.74 262.94 L617.24 261.06 L618.67 259.18 L620.01 257.28 L621.27 255.39 L622.46 253.48 L623.57 251.57 L624.59 249.66 L625.54 247.74 L626.42 245.82 L627.23 243.91 L628.17 242.02 L629.03 240.13 L629.82 238.24 L630.53 236.34 L631.17 234.44 L631.73 232.54 L632.21 230.64 L632.62 228.74 L632.95 226.84 L633.21 224.94 L633.35 223.03 L633.41 221.14 L633.40 219.24 L633.32 217.35 L633.16 215.47 L632.94 213.59 L632.64 211.72 L632.28 209.85 L631.85 207.99 L631.34 206.14 L630.78 204.30 L630.14 202.46 L629.44 200.64 L628.67 198.82 L627.84 197.02 L626.94 195.23 L625.98 193.44 L624.96 191.67 L623.87 189.91 L622.72 188.17 L621.48 186.44 L620.19 184.72 L618.83 183.02 L617.41 181.33 L615.94 179.66 L614.42 178.00 L612.83 176.36 L611.20 174.73 L609.51 173.12 L607.77 171.53 L605.97 169.95 L604.13 168.39 L602.23 166.85 L600.29 165.33 L598.30 163.82 L596.26 162.33 L594.17 160.86 L592.04 159.41 L589.82 157.99 L587.56 156.59 L585.26 155.20 L582.91 153.84 L580.52 152.50 L578.10 151.17 L575.63 149.87 L573.13 148.59 L570.59 147.33 L568.01 146.09 L565.39 144.87 L562.75 143.68 Z" fill="#8A4A9C"/>
<path d="M567.09 141.99 L569.86 143.20 L572.60 144.43 L575.31 145.69 L577.98 146.96 L580.62 148.26 L583.21 149.58 L585.77 150.92 L588.29 152.28 L590.77 153.67 L593.21 155.08 L595.61 156.50 L597.97 157.95 L600.28 159.42 L602.55 160.91 L604.77 162.43 L606.95 163.96 L609.08 165.51 L611.16 167.08 L613.20 168.67 L615.18 170.28 L617.12 171.91 L619.00 173.56 L620.83 175.23 L622.61 176.92 L624.34 178.62 L626.00 180.34 L627.62 182.08 L629.17 183.84 L630.67 185.61 L632.11 187.40 L633.49 189.21 L634.81 191.03 L636.07 192.87 L637.27 194.72 L638.40 196.59 L639.47 198.47 L640.47 200.37 L641.41 202.28 L642.28 204.20 L643.09 206.13 L643.82 208.08 L644.49 210.04 L645.08 212.01 L645.60 213.99 L646.06 215.98 L646.43 217.98 L646.74 219.99 L646.97 222.01 L647.13 224.03 L647.20 226.07 L647.21 228.10 L647.13 230.15 L646.98 232.20 L646.75 234.26 L646.44 236.32 L646.04 238.38 L645.57 240.44 L645.02 242.51 L644.38 244.58 L643.66 246.65 L642.86 248.72 L641.98 250.79 L641.01 252.85 L639.95 254.92 L638.82 256.98 L637.59 259.03 L636.28 261.09 L634.89 263.13 L633.41 265.17 L631.84 267.20 L630.19 269.23 L628.45 271.24 L626.62 273.24 L624.71 275.24 L622.71 277.22 L620.63 279.19 L618.46 281.14 L616.20 283.08 L613.85 285.01 L611.42 286.92 L608.91 288.81 L606.31 290.68 L603.63 292.53 L600.86 294.36 L590.73 289.89 L593.12 288.05 L595.43 286.19 L597.66 284.33 L599.81 282.45 L601.87 280.56 L603.85 278.66 L605.80 276.77 L607.68 274.88 L609.47 272.97 L611.18 271.05 L612.80 269.13 L614.34 267.20 L615.80 265.26 L617.20 263.33 L618.71 261.44 L620.13 259.54 L621.48 257.63 L622.75 255.72 L623.94 253.80 L625.05 251.87 L626.08 249.95 L627.03 248.02 L627.90 246.09 L628.72 244.16 L629.62 242.25 L630.45 240.34 L631.20 238.43 L631.87 236.52 L632.47 234.60 L632.99 232.68 L633.43 230.77 L633.80 228.85 L634.10 226.94 L634.31 225.03 L634.42 223.11 L634.45 221.20 L634.41 219.30 L634.29 217.40 L634.11 215.50 L633.85 213.62 L633.52 211.74 L633.13 209.86 L632.66 208.00 L632.13 206.14 L631.53 204.29 L630.86 202.45 L630.13 200.62 L629.33 198.80 L628.46 196.99 L627.54 195.20 L626.55 193.41 L625.49 191.64 L624.38 189.88 L623.20 188.13 L621.94 186.40 L620.62 184.68 L619.24 182.98 L617.80 181.29 L616.31 179.61 L614.76 177.96 L613.15 176.31 L611.50 174.69 L609.79 173.08 L608.02 171.49 L606.21 169.91 L604.35 168.35 L602.43 166.81 L600.47 165.29 L598.46 163.79 L596.40 162.30 L594.30 160.83 L592.15 159.38 L589.92 157.96 L587.65 156.56 L585.33 155.18 L582.98 153.82 L580.58 152.48 L578.15 151.16 L575.67 149.86 L573.16 148.58 L570.61 147.32 L568.02 146.09 L565.40 144.87 L562.75 143.68 Z" fill="#7F448F"/>
<path d="M567.09 141.99 L569.86 143.20 L572.60 144.43 L575.31 145.69 L577.98 146.96 L580.62 148.26 L583.21 149.58 L585.77 150.92 L588.29 152.28 L590.77 153.67 L593.21 155.08 L595.61 156.50 L597.97 157.95 L600.28 159.42 L602.55 160.91 L604.77 162.43 L606.95 163.96 L609.08 165.51 L611.16 167.08 L613.20 168.67 L615.18 170.28 L617.12 171.91 L619.00 173.56 L620.83 175.23 L622.61 176.92 L624.34 178.62 L626.00 180.34 L627.62 182.08 L629.17 183.84 L630.67 185.61 L632.11 187.40 L633.49 189.21 L634.81 191.03 L636.07 192.87 L637.27 194.72 L638.40 196.59 L639.47 198.47 L640.47 200.37 L641.41 202.28 L642.28 204.20 L643.09 206.13 L643.82 208.08 L644.49 210.04 L645.08 212.01 L645.60 213.99 L646.06 215.98 L646.43 217.98 L646.74 219.99 L646.97 222.01 L647.13 224.03 L647.20 226.07 L647.21 228.10 L647.13 230.15 L646.98 232.20 L646.75 234.26 L646.44 236.32 L646.04 238.38 L645.57 240.44 L645.02 242.51 L644.38 244.58 L643.66 246.65 L642.86 248.72 L641.98 250.79 L641.01 252.85 L639.95 254.92 L638.82 256.98 L637.59 259.03 L636.28 261.09 L634.89 263.13 L633.41 265.17 L631.84 267.20 L630.19 269.23 L628.45 271.24 L626.62 273.24 L624.71 275.24 L622.71 277.22 L620.63 279.19 L618.46 281.14 L616.20 283.08 L613.85 285.01 L611.42 286.92 L608.91 288.81 L606.31 290.68 L603.63 292.53 L600.86 294.36 L591.43 290.20 L593.89 288.37 L596.26 286.53 L598.55 284.68 L600.75 282.81 L602.87 280.93 L604.92 279.04 L606.92 277.16 L608.84 275.27 L610.68 273.36 L612.44 271.44 L614.11 269.52 L615.70 267.59 L617.21 265.65 L618.65 263.71 L620.17 261.81 L621.60 259.89 L622.96 257.97 L624.23 256.05 L625.42 254.11 L626.53 252.18 L627.57 250.24 L628.52 248.29 L629.40 246.35 L630.20 244.40 L631.07 242.48 L631.86 240.55 L632.57 238.62 L633.21 236.69 L633.77 234.76 L634.25 232.83 L634.65 230.90 L634.98 228.97 L635.24 227.04 L635.42 225.11 L635.49 223.19 L635.49 221.27 L635.41 219.35 L635.27 217.45 L635.05 215.54 L634.76 213.65 L634.40 211.76 L633.97 209.88 L633.48 208.00 L632.91 206.14 L632.28 204.28 L631.58 202.44 L630.82 200.60 L629.99 198.78 L629.09 196.97 L628.13 195.17 L627.11 193.38 L626.03 191.60 L624.89 189.84 L623.68 188.09 L622.39 186.36 L621.05 184.64 L619.65 182.93 L618.19 181.24 L616.67 179.57 L615.10 177.91 L613.47 176.27 L611.80 174.64 L610.06 173.04 L608.28 171.44 L606.45 169.87 L604.56 168.31 L602.63 166.77 L600.65 165.25 L598.62 163.75 L596.54 162.27 L594.42 160.80 L592.25 159.36 L590.01 157.94 L587.73 156.54 L585.41 155.16 L583.04 153.80 L580.64 152.46 L578.19 151.14 L575.71 149.85 L573.19 148.57 L570.63 147.31 L568.04 146.08 L565.41 144.87 L562.75 143.68 Z" fill="#733E82"/>
<path d="M567.09 141.99 L569.86 143.20 L572.60 144.43 L575.31 145.69 L577.98 146.96 L580.62 148.26 L583.21 149.58 L585.77 150.92 L588.29 152.28 L590.77 153.67 L593.21 155.08 L595.61 156.50 L597.97 157.95 L600.28 159.42 L602.55 160.91 L604.77 162.43 L606.95 163.96 L609.08 165.51 L611.16 167.08 L613.20 168.67 L615.18 170.28 L617.12 171.91 L619.00 173.56 L620.83 175.23 L622.61 176.92 L624.34 178.62 L626.00 180.34 L627.62 182.08 L629.17 183.84 L630.67 185.61 L632.11 187.40 L633.49 189.21 L634.81 191.03 L636.07 192.87 L637.27 194.72 L638.40 196.59 L639.47 198.47 L640.47 200.37 L641.41 202.28 L642.28 204.20 L643.09 206.13 L643.82 208.08 L644.49 210.04 L645.08 212.01 L645.60 213.99 L646.06 215.98 L646.43 217.98 L646.74 219.99 L646.97 222.01 L647.13 224.03 L647.20 226.07 L647.21 228.10 L647.13 230.15 L646.98 232.20 L646.75 234.26 L646.44 236.32 L646.04 238.38 L645.57 240.44 L645.02 242.51 L644.38 244.58 L643.66 246.65 L642.86 248.72 L641.98 250.79 L641.01 252.85 L639.95 254.92 L638.82 256.98 L637.59 259.03 L636.28 261.09 L634.89 263.13 L633.41 265.17 L631.84 267.20 L630.19 269.23 L628.45 271.24 L626.62 273.24 L624.71 275.24 L622.71 277.22 L620.63 279.19 L618.46 281.14 L616.20 283.08 L613.85 285.01 L611.42 286.92 L608.91 288.81 L606.31 290.68 L603.63 292.53 L600.86 294.36 L592.14 290.51 L594.65 288.70 L597.08 286.87 L599.43 285.03 L601.70 283.18 L603.88 281.31 L605.98 279.43 L608.04 277.55 L610.01 275.65 L611.90 273.75 L613.71 271.84 L615.43 269.91 L617.07 267.98 L618.63 266.04 L620.11 264.10 L621.63 262.18 L623.07 260.25 L624.43 258.32 L625.71 256.38 L626.90 254.43 L628.02 252.48 L629.05 250.53 L630.01 248.57 L630.89 246.61 L631.69 244.65 L632.52 242.71 L633.28 240.76 L633.95 238.81 L634.55 236.87 L635.07 234.92 L635.51 232.97 L635.87 231.03 L636.16 229.08 L636.38 227.14 L636.52 225.20 L636.56 223.27 L636.53 221.34 L636.42 219.41 L636.24 217.49 L635.99 215.58 L635.67 213.68 L635.28 211.78 L634.82 209.89 L634.29 208.01 L633.70 206.14 L633.03 204.28 L632.30 202.43 L631.51 200.59 L630.65 198.76 L629.72 196.94 L628.73 195.14 L627.68 193.35 L626.57 191.57 L625.39 189.80 L624.16 188.05 L622.85 186.32 L621.48 184.59 L620.05 182.89 L618.57 181.20 L617.03 179.52 L615.44 177.87 L613.79 176.22 L612.09 174.60 L610.34 172.99 L608.54 171.40 L606.68 169.83 L604.78 168.27 L602.83 166.74 L600.83 165.22 L598.78 163.72 L596.68 162.24 L594.54 160.77 L592.36 159.33 L590.11 157.91 L587.82 156.52 L585.48 155.14 L583.11 153.78 L580.70 152.45 L578.24 151.13 L575.75 149.83 L573.22 148.56 L570.66 147.31 L568.05 146.08 L565.42 144.87 L562.75 143.68 Z" fill="#673774"/>
<path d="M567.09 141.99 L569.86 143.20 L572.60 144.43 L575.31 145.69 L577.98 146.96 L580.62 148.26 L583.21 149.58 L585.77 150.92 L588.29 152.28 L590.77 153.67 L593.21 155.08 L595.61 156.50 L597.97 157.95 L600.28 159.42 L602.55 160.91 L604.77 162.43 L606.95 163.96 L609.08 165.51 L611.16 167.08 L613.20 168.67 L615.18 170.28 L617.12 171.91 L619.00 173.56 L620.83 175.23 L622.61 176.92 L624.34 178.62 L626.00 180.34 L627.62 182.08 L629.17 183.84 L630.67 185.61 L632.11 187.40 L633.49 189.21 L634.81 191.03 L636.07 192.87 L637.27 194.72 L638.40 196.59 L639.47 198.47 L640.47 200.37 L641.41 202.28 L642.28 204.20 L643.09 206.13 L643.82 208.08 L644.49 210.04 L645.08 212.01 L645.60 213.99 L646.06 215.98 L646.43 217.98 L646.74 219.99 L646.97 222.01 L647.13 224.03 L647.20 226.07 L647.21 228.10 L647.13 230.15 L646.98 232.20 L646.75 234.26 L646.44 236.32 L646.04 238.38 L645.57 240.44 L645.02 242.51 L644.38 244.58 L643.66 246.65 L642.86 248.72 L641.98 250.79 L641.01 252.85 L639.95 254.92 L638.82 256.98 L637.59 259.03 L636.28 261.09 L634.89 263.13 L633.41 265.17 L631.84 267.20 L630.19 269.23 L628.45 271.24 L626.62 273.24 L624.71 275.24 L622.71 277.22 L620.63 279.19 L618.46 281.14 L616.20 283.08 L613.85 285.01 L611.42 286.92 L608.91 288.81 L606.31 290.68 L603.63 292.53 L600.86 294.36 L592.84 290.82 L595.42 289.03 L597.91 287.22 L600.32 285.39 L602.65 283.54 L604.89 281.68 L607.06 279.81 L609.16 277.93 L611.18 276.04 L613.12 274.14 L614.97 272.23 L616.75 270.31 L618.44 268.37 L620.04 266.43 L621.57 264.49 L623.10 262.55 L624.54 260.61 L625.91 258.66 L627.19 256.71 L628.39 254.75 L629.51 252.78 L630.54 250.82 L631.50 248.85 L632.38 246.87 L633.18 244.90 L633.98 242.94 L634.69 240.97 L635.33 239.01 L635.89 237.04 L636.37 235.08 L636.77 233.12 L637.10 231.16 L637.35 229.20 L637.52 227.24 L637.62 225.29 L637.63 223.34 L637.57 221.40 L637.43 219.47 L637.22 217.54 L636.94 215.62 L636.58 213.70 L636.16 211.80 L635.67 209.90 L635.11 208.02 L634.48 206.14 L633.79 204.27 L633.02 202.42 L632.20 200.57 L631.30 198.74 L630.35 196.92 L629.33 195.11 L628.25 193.31 L627.10 191.53 L625.90 189.77 L624.64 188.01 L623.30 186.27 L621.91 184.55 L620.46 182.85 L618.96 181.15 L617.40 179.48 L615.78 177.82 L614.11 176.18 L612.39 174.55 L610.62 172.95 L608.79 171.36 L606.92 169.79 L605.00 168.23 L603.02 166.70 L601.00 165.18 L598.94 163.68 L596.82 162.20 L594.67 160.75 L592.46 159.31 L590.20 157.89 L587.90 156.49 L585.56 155.12 L583.18 153.76 L580.75 152.43 L578.29 151.11 L575.79 149.82 L573.25 148.55 L570.68 147.30 L568.07 146.07 L565.42 144.86 L562.75 143.68 Z" fill="#5B3067"/>
<path d="M567.09 141.99 L569.86 143.20 L572.60 144.43 L575.31 145.69 L577.98 146.96 L580.62 148.26 L583.21 149.58 L585.77 150.92 L588.29 152.28 L590.77 153.67 L593.21 155.08 L595.61 156.50 L597.97 157.95 L600.28 159.42 L602.55 160.91 L604.77 162.43 L606.95 163.96 L609.08 165.51 L611.16 167.08 L613.20 168.67 L615.18 170.28 L617.12 171.91 L619.00 173.56 L620.83 175.23 L622.61 176.92 L624.34 178.62 L626.00 180.34 L627.62 182.08 L629.17 183.84 L630.67 185.61 L632.11 187.40 L633.49 189.21 L634.81 191.03 L636.07 192.87 L637.27 194.72 L638.40 196.59 L639.47 198.47 L640.47 200.37 L641.41 202.28 L642.28 204.20 L643.09 206.13 L643.82 208.08 L644.49 210.04 L645.08 212.01 L645.60 213.99 L646.06 215.98 L646.43 217.98 L646.74 219.99 L646.97 222.01 L647.13 224.03 L647.20 226.07 L647.21 228.10 L647.13 230.15 L646.98 232.20 L646.75 234.26 L646.44 236.32 L646.04 238.38 L645.57 240.44 L645.02 242.51 L644.38 244.58 L643.66 246.65 L642.86 248.72 L641.98 250.79 L641.01 252.85 L639.95 254.92 L638.82 256.98 L637.59 259.03 L636.28 261.09 L634.89 263.13 L633.41 265.17 L631.84 267.20 L630.19 269.23 L628.45 271.24 L626.62 273.24 L624.71 275.24 L622.71 277.22 L620.63 279.19 L618.46 281.14 L616.20 283.08 L613.85 285.01 L611.42 286.92 L608.91 288.81 L606.31 290.68 L603.63 292.53 L600.86 294.36 L593.55 291.13 L596.18 289.35 L598.74 287.56 L601.21 285.74 L603.60 283.91 L605.90 282.06 L608.13 280.19 L610.28 278.32 L612.35 276.43 L614.34 274.53 L616.24 272.62 L618.07 270.70 L619.80 268.76 L621.46 266.82 L623.04 264.87 L624.57 262.92 L626.02 260.97 L627.38 259.01 L628.67 257.04 L629.87 255.07 L631.00 253.09 L632.04 251.11 L632.99 249.12 L633.87 247.14 L634.68 245.15 L635.43 243.17 L636.11 241.18 L636.71 239.20 L637.23 237.22 L637.67 235.24 L638.03 233.26 L638.32 231.28 L638.53 229.31 L638.66 227.34 L638.72 225.38 L638.70 223.42 L638.60 221.47 L638.44 219.52 L638.19 217.59 L637.88 215.66 L637.50 213.73 L637.04 211.82 L636.52 209.92 L635.93 208.02 L635.27 206.14 L634.54 204.26 L633.75 202.40 L632.89 200.55 L631.96 198.72 L630.98 196.89 L629.93 195.08 L628.81 193.28 L627.64 191.50 L626.41 189.73 L625.11 187.97 L623.76 186.23 L622.34 184.51 L620.87 182.80 L619.34 181.11 L617.76 179.43 L616.12 177.78 L614.43 176.13 L612.69 174.51 L610.90 172.90 L609.05 171.31 L607.16 169.74 L605.21 168.19 L603.22 166.66 L601.18 165.14 L599.10 163.65 L596.97 162.17 L594.79 160.72 L592.57 159.28 L590.30 157.87 L587.99 156.47 L585.64 155.10 L583.24 153.74 L580.81 152.41 L578.34 151.10 L575.83 149.81 L573.28 148.54 L570.70 147.29 L568.08 146.06 L565.43 144.86 L562.75 143.68 Z" fill="#4F2A5A"/>
</g>
</g>
<path d="M384.37 204.60 L146.72 219.25 L152.36 266.25 L384.65 250.88 Z" fill="#375623" stroke="#375623" stroke-width="0.7" stroke-linejoin="round" />
<path d="M384.37 204.60 L148.71 219.13 Q146.72 219.25 146.97 217.27 L147.27 215.39 L147.66 213.48 L148.11 211.57 L148.64 209.67 L149.23 207.78 L149.89 205.90 L150.61 204.03 L151.40 202.17 L152.26 200.33 L153.18 198.49 L154.16 196.67 L155.21 194.86 L156.32 193.07 L157.48 191.29 L158.71 189.52 L160.00 187.77 L161.34 186.04 L162.75 184.31 L164.20 182.61 L165.72 180.92 L167.29 179.25 L168.91 177.59 L170.59 175.95 L172.31 174.33 L174.09 172.72 L175.92 171.13 L177.80 169.56 L179.73 168.01 L181.70 166.48 L183.72 164.97 L185.79 163.47 L187.91 161.99 L190.06 160.54 L192.26 159.10 L194.51 157.68 L196.79 156.29 L199.12 154.91 L201.48 153.55 L203.89 152.21 L206.33 150.90 L208.81 149.60 L211.33 148.33 L213.89 147.07 L216.48 145.84 L219.10 144.63 L221.76 143.44 L224.45 142.27 L227.17 141.13 L229.93 140.00 L232.71 138.90 L235.53 137.82 L238.37 136.76 L241.24 135.73 L244.14 134.71 L247.07 133.72 L250.02 132.75 L253.00 131.80 L256.00 130.88 L259.03 129.98 L262.08 129.10 L265.15 128.24 L268.25 127.41 L270.40 126.85 Q271.37 126.60 272.19 127.16 Z" fill="#70AD47" stroke="#70AD47" stroke-width="0.3" stroke-linejoin="round" />
<g clip-path="url(#cGn)">
<path d="M148.39 213.41 L148.84 211.51 L149.36 209.62 L149.95 207.74 L150.60 205.86 L151.32 204.00 L152.11 202.15 L152.96 200.31 L153.88 198.49 L154.86 196.67 L155.90 194.87 L157.00 193.08 L158.16 191.31 L159.39 189.55 L160.67 187.80 L162.01 186.07 L163.40 184.36 L164.85 182.66 L166.36 180.97 L167.92 179.31 L169.54 177.66 L171.21 176.02 L172.93 174.40 L174.70 172.80 L176.52 171.22 L178.39 169.66 L180.31 168.11 L182.28 166.58 L184.29 165.07 L186.35 163.58 L188.45 162.11 L190.60 160.66 L192.80 159.23 L195.03 157.81 L197.31 156.42 L199.62 155.05 L201.98 153.70 L204.38 152.36 L206.81 151.05 L209.28 149.76 L211.79 148.49 L214.33 147.24 L216.91 146.01 L219.53 144.80 L222.18 143.62 L224.86 142.45 L227.57 141.31 L230.31 140.19 L233.09 139.09 L235.89 138.01 L238.73 136.96 L241.59 135.92 L244.48 134.91 L247.39 133.92" fill="none" stroke="#8FC768" stroke-width="2.4" stroke-linecap="butt" filter="url(#b05)" opacity="0.65"/>
</g>
<path d="M384.37 204.60 L147.25 218.26 L146.79 220.45 L384.44 205.80 Z" fill="#375623"  />
<path d="M145.26 244.66 L144.77 242.88 L144.34 241.11 L143.98 239.33 L143.68 237.56 L143.43 235.78 L143.25 234.01 L148.91 281.58 L149.08 283.42 L149.31 285.26 L149.60 287.10 L149.95 288.94 L150.13 289.71 Q150.83 292.63 150.49 289.65 Z" fill="#00112F" stroke="#00112F" stroke-width="0.7" stroke-linejoin="round" />
<path d="M382.67 208.69 L145.26 244.66 L150.83 292.63 L382.99 255.26 Z" fill="#00112F" stroke="#00112F" stroke-width="0.7" stroke-linejoin="round" />
<path d="M382.67 208.69 L147.24 244.36 Q145.26 244.66 144.73 242.73 L144.73 242.73 L144.28 240.79 L143.89 238.86 L143.58 236.93 L143.34 235.01 L143.18 233.08 L143.08 231.17 L143.05 229.25 L143.09 227.34 L143.14 226.54 Q143.38 223.55 146.37 223.36 Z" fill="#002060" stroke="#002060" stroke-width="0.3" stroke-linejoin="round" />
<path d="M164.18 265.67 L162.81 263.76 L161.50 261.85 L160.28 259.94 L159.13 258.01 L158.06 256.09 L157.06 254.16 L156.14 252.23 L155.29 250.30 L154.52 248.36 L153.82 246.43 L153.20 244.49 L158.15 288.48 Q158.59 292.45 159.80 296.27 L159.87 296.47 L160.62 298.47 L161.44 300.47 L162.33 302.47 L163.30 304.47 L164.34 306.46 L165.46 308.45 L166.65 310.44 L167.92 312.42 L169.26 314.39 Z" fill="url(#gYe)" stroke="url(#gYe)" stroke-width="0.7" stroke-linejoin="round" />
<path d="M390.12 208.54 L164.18 265.67 L169.26 314.39 L390.27 255.10 Z" fill="#8F6B00" stroke="#8F6B00" stroke-width="0.7" stroke-linejoin="round" />
<path d="M390.12 208.54 L165.64 265.30 Q164.18 265.67 163.31 264.45 L162.81 263.76 L161.50 261.85 L160.28 259.94 L159.13 258.01 L158.06 256.09 L157.06 254.16 L156.14 252.23 L155.29 250.30 L154.52 248.36 L153.98 246.87 Q153.20 244.49 155.67 244.12 Z" fill="#FFC000" stroke="#FFC000" stroke-width="0.3" stroke-linejoin="round" />
<path d="M248.90 316.92 L245.16 315.55 L241.49 314.15 L237.88 312.71 L234.35 311.25 L230.88 309.75 L227.48 308.23 L224.16 306.68 L220.90 305.10 L217.73 303.50 L214.62 301.87 L211.59 300.21 L208.64 298.54 L205.76 296.84 L202.96 295.12 L200.24 293.37 L197.60 291.61 L195.03 289.83 L192.55 288.03 L190.14 286.21 L187.82 284.38 L185.57 282.53 L183.41 280.66 L181.33 278.79 L179.33 276.89 L177.41 274.99 L175.57 273.08 L173.81 271.15 L172.14 269.22 L170.54 267.27 L169.03 265.32 L173.70 311.04 Q174.00 314.03 175.78 316.44 L177.03 318.06 L178.66 320.06 L180.37 322.05 L182.16 324.03 L184.03 326.00 L185.98 327.95 L188.01 329.89 L190.12 331.82 L192.31 333.73 L194.58 335.62 L196.93 337.50 L199.35 339.36 L201.86 341.20 L204.44 343.01 L207.10 344.81 L209.83 346.59 L212.64 348.34 L215.53 350.07 L218.49 351.78 L221.52 353.46 L224.63 355.11 L227.81 356.74 L231.06 358.34 L234.38 359.91 L237.77 361.45 L241.23 362.96 L244.76 364.44 L248.35 365.88 L252.00 367.30 Z" fill="url(#gGr)" stroke="url(#gGr)" stroke-width="0.7" stroke-linejoin="round" />
<path d="M394.46 208.25 L248.90 316.92 L252.00 367.30 L394.51 254.80 Z" fill="#7A7A7A" stroke="#7A7A7A" stroke-width="0.7" stroke-linejoin="round" />
<path d="M394.46 208.25 L250.10 316.03 Q248.90 316.92 247.49 316.41 L245.16 315.55 L241.49 314.15 L237.88 312.71 L234.35 311.25 L230.88 309.75 L227.48 308.23 L224.16 306.68 L220.90 305.10 L217.73 303.50 L214.62 301.87 L211.59 300.21 L208.64 298.54 L205.76 296.84 L202.96 295.12 L200.24 293.37 L197.60 291.61 L195.03 289.83 L192.55 288.03 L190.14 286.21 L187.82 284.38 L185.57 282.53 L183.41 280.66 L181.33 278.79 L179.33 276.89 L177.41 274.99 L175.57 273.08 L173.81 271.15 L172.14 269.22 L170.56 267.30 Q169.03 265.32 171.46 264.71 Z" fill="#A5A5A5" stroke="#A5A5A5" stroke-width="0.3" stroke-linejoin="round" />
<g clip-path="url(#cGrW)">
<path d="M248.87 316.42 L245.13 315.05 L241.46 313.65 L237.85 312.21 L234.31 310.75 L230.84 309.25 L227.45 307.73 L224.12 306.18 L220.87 304.60 L217.69 303.00 L214.58 301.37 L211.55 299.72 L208.60 298.04 L205.72 296.34 L202.92 294.62 L200.20 292.88 L197.55 291.11 L194.99 289.33 L192.50 287.53 L190.10 285.72 L187.77 283.88 L185.53 282.04 L183.36 280.17 L181.28 278.29 L179.28 276.40 L177.36 274.50 L175.52 272.59 L173.76 270.66 L172.09 268.73 L170.49 266.78 L168.98 264.83" fill="none" stroke="#C6C6C6" stroke-width="4.6" stroke-linecap="butt" filter="url(#b1)"/>
</g>
<path d="M595.93 291.31 L593.30 293.11 L590.58 294.89 L587.79 296.65 L584.92 298.39 L581.97 300.10 L578.94 301.80 L575.83 303.46 L572.64 305.10 L569.38 306.72 L566.05 308.31 L562.64 309.87 L559.16 311.40 L555.61 312.90 L551.98 314.37 L548.29 315.81 L544.53 317.22 L540.70 318.59 L536.81 319.93 L532.85 321.23 L528.83 322.50 L524.75 323.73 L520.62 324.93 L516.42 326.09 L512.17 327.20 L507.86 328.28 L503.50 329.32 L499.10 330.32 L494.64 331.28 L490.14 332.19 L485.59 333.06 L481.00 333.89 L476.37 334.68 L471.70 335.42 L467.00 336.11 L462.26 336.77 L457.49 337.37 L452.69 337.93 L447.87 338.44 L443.02 338.91 L438.14 339.33 L433.25 339.70 L428.34 340.02 L423.41 340.30 L418.47 340.53 L413.53 340.71 L408.57 340.84 L403.61 340.92 L398.64 340.96 L393.67 340.95 L388.71 340.88 L383.75 340.77 L378.80 340.62 L373.85 340.41 L368.92 340.15 L364.00 339.85 L359.10 339.50 L354.22 339.10 L349.36 338.66 L344.52 338.17 L339.71 337.63 L334.92 337.04 L330.17 336.41 L325.45 335.73 L320.76 335.01 L316.11 334.25 L311.50 333.44 L306.94 332.59 L302.41 331.69 L297.93 330.75 L293.50 329.77 L289.12 328.75 L284.79 327.69 L280.51 326.59 L276.29 325.45 L272.12 324.27 L268.01 323.06 L263.96 321.80 L259.98 320.52 L256.05 319.19 L252.19 317.83 L255.02 364.74 Q255.23 368.23 258.51 369.45 L259.00 369.63 L262.84 371.00 L266.74 372.32 L270.70 373.61 L274.72 374.86 L278.80 376.08 L282.93 377.25 L287.12 378.38 L291.36 379.47 L295.65 380.52 L299.99 381.53 L304.37 382.50 L308.80 383.42 L313.27 384.30 L317.79 385.13 L322.34 385.92 L326.93 386.66 L331.55 387.35 L336.20 388.00 L340.89 388.60 L345.60 389.16 L350.34 389.66 L355.10 390.12 L359.88 390.53 L364.68 390.89 L369.50 391.20 L374.33 391.46 L379.17 391.68 L384.02 391.84 L388.88 391.95 L393.74 392.02 L398.61 392.05 L403.50 392.05 L408.39 392.01 L413.27 391.92 L418.14 391.78 L423.01 391.59 L427.86 391.35 L432.69 391.06 L437.51 390.72 L442.31 390.33 L447.08 389.89 L451.83 389.41 L456.56 388.87 L461.25 388.29 L465.91 387.66 L470.54 386.98 L475.14 386.26 L479.69 385.49 L484.21 384.67 L488.69 383.81 L493.12 382.90 L497.50 381.95 L501.84 380.95 L506.13 379.92 L510.36 378.84 L514.54 377.71 L518.67 376.55 L522.74 375.35 L526.75 374.10 L530.71 372.82 L534.60 371.50 L538.43 370.14 L542.19 368.75 L545.89 367.32 L549.52 365.85 L553.08 364.36 L556.57 362.82 L559.99 361.26 L563.34 359.66 L566.62 358.03 L569.83 356.38 L572.95 354.69 L576.01 352.98 L578.98 351.24 L581.88 349.47 L584.71 347.68 L587.45 345.86 L590.11 344.02 L590.27 343.92 Q592.70 342.16 592.89 339.17 Z" fill="url(#gOr)" stroke="url(#gOr)" stroke-width="0.7" stroke-linejoin="round" />
<path d="M397.42 208.91 L593.62 290.35 Q595.93 291.31 593.86 292.72 L593.30 293.11 L590.58 294.89 L587.79 296.65 L584.92 298.39 L581.97 300.10 L578.94 301.80 L575.83 303.46 L572.64 305.10 L569.38 306.72 L566.05 308.31 L562.64 309.87 L559.16 311.40 L555.61 312.90 L551.98 314.37 L548.29 315.81 L544.53 317.22 L540.70 318.59 L536.81 319.93 L532.85 321.23 L528.83 322.50 L524.75 323.73 L520.62 324.93 L516.42 326.09 L512.17 327.20 L507.86 328.28 L503.50 329.32 L499.10 330.32 L494.64 331.28 L490.14 332.19 L485.59 333.06 L481.00 333.89 L476.37 334.68 L471.70 335.42 L467.00 336.11 L462.26 336.77 L457.49 337.37 L452.69 337.93 L447.87 338.44 L443.02 338.91 L438.14 339.33 L433.25 339.70 L428.34 340.02 L423.41 340.30 L418.47 340.53 L413.53 340.71 L408.57 340.84 L403.61 340.92 L398.64 340.96 L393.67 340.95 L388.71 340.88 L383.75 340.77 L378.80 340.62 L373.85 340.41 L368.92 340.15 L364.00 339.85 L359.10 339.50 L354.22 339.10 L349.36 338.66 L344.52 338.17 L339.71 337.63 L334.92 337.04 L330.17 336.41 L325.45 335.73 L320.76 335.01 L316.11 334.25 L311.50 333.44 L306.94 332.59 L302.41 331.69 L297.93 330.75 L293.50 329.77 L289.12 328.75 L284.79 327.69 L280.51 326.59 L276.29 325.45 L272.12 324.27 L268.01 323.06 L263.96 321.80 L259.98 320.52 L256.05 319.19 L254.08 318.50 Q252.19 317.83 253.79 316.63 Z" fill="#E97C30" stroke="#E97C30" stroke-width="0.3" stroke-linejoin="round" />
<g clip-path="url(#cOrAll)">
<g filter="url(#b05)">
<path d="M598.62 287.46 L596.10 289.25 L593.50 291.03 L590.82 292.78 L588.06 294.52 L585.23 296.23 L582.32 297.93 L579.33 299.60 L576.27 301.24 L573.13 302.87 L569.92 304.46 L566.63 306.03 L563.27 307.58 L559.84 309.09 L556.34 310.58 L552.78 312.03 L549.14 313.46 L545.44 314.86 L541.67 316.22 L537.84 317.55 L533.95 318.84 L529.99 320.10 L525.98 321.33 L521.90 322.52 L517.77 323.67 L513.59 324.79 L509.35 325.87 L505.06 326.91 L500.72 327.91 L496.34 328.87 L491.90 329.79 L487.43 330.66 L482.91 331.50 L478.35 332.29 L473.75 333.04 L469.12 333.75 L464.45 334.41 L459.76 335.03 L455.03 335.61 L450.27 336.14 L445.49 336.62 L440.69 337.06 L435.86 337.45 L431.02 337.80 L426.16 338.10 L421.29 338.35 L416.40 338.56 L411.51 338.72 L406.61 338.83 L401.70 338.90 L396.80 338.92 L391.89 338.89 L386.98 338.81 L382.08 338.68 L377.19 338.51 L372.31 338.29 L367.44 338.03 L362.58 337.71 L357.74 337.36 L352.92 336.95 L348.12 336.50 L348.16 338.54 L352.96 339.29 L357.79 340.00 L362.62 340.66 L367.48 341.28 L372.34 341.84 L377.22 342.37 L382.11 342.84 L387.00 343.27 L391.90 343.65 L396.80 343.98 L401.70 344.18 L406.59 344.32 L411.48 344.42 L416.37 344.46 L421.24 344.46 L426.10 344.42 L430.95 344.32 L435.78 344.18 L440.60 344.00 L445.39 343.76 L450.15 343.49 L454.90 343.16 L459.61 342.79 L464.29 342.38 L468.94 341.92 L473.56 341.35 L478.15 340.68 L482.69 339.97 L487.19 339.22 L491.66 338.42 L496.08 337.58 L500.45 336.71 L504.77 335.79 L509.05 334.83 L513.27 333.83 L517.44 332.80 L521.55 331.73 L525.61 330.62 L529.61 329.47 L533.55 328.29 L537.43 327.07 L541.24 325.82 L545.00 324.53 L548.68 323.21 L552.30 321.86 L555.86 320.48 L559.34 319.07 L562.75 317.63 L566.09 316.16 L569.36 314.66 L572.56 313.08 L575.70 311.28 L578.76 309.46 L581.75 307.61 L584.66 305.75 L587.50 303.85 L590.25 301.94 L592.93 300.01 L595.54 298.06 L598.06 296.09 Z" fill="#E97C30" opacity="0.27"/>
<path d="M598.62 287.46 L596.10 289.25 L593.50 291.03 L590.82 292.78 L588.06 294.52 L585.23 296.23 L582.32 297.93 L579.33 299.60 L576.27 301.24 L573.13 302.87 L569.92 304.46 L566.63 306.03 L563.27 307.58 L559.84 309.09 L556.34 310.58 L552.78 312.03 L549.14 313.46 L545.44 314.86 L541.67 316.22 L537.84 317.55 L533.95 318.84 L529.99 320.10 L525.98 321.33 L521.90 322.52 L517.77 323.67 L513.59 324.79 L509.35 325.87 L505.06 326.91 L500.72 327.91 L496.34 328.87 L491.90 329.79 L487.43 330.66 L482.91 331.50 L478.35 332.29 L473.75 333.04 L469.12 333.75 L464.45 334.41 L459.76 335.03 L455.03 335.61 L450.27 336.14 L445.49 336.62 L440.69 337.06 L435.86 337.45 L431.02 337.80 L426.16 338.10 L421.29 338.35 L416.40 338.56 L411.51 338.72 L406.61 338.83 L401.70 338.90 L396.80 338.92 L391.89 338.89 L386.98 338.81 L382.08 338.68 L377.19 338.51 L372.31 338.29 L367.44 338.03 L362.58 337.71 L357.74 337.36 L352.92 336.95 L348.12 336.50 L348.16 338.54 L352.96 339.26 L357.78 339.93 L362.62 340.55 L367.48 341.13 L372.34 341.66 L377.22 342.14 L382.11 342.58 L387.00 342.97 L391.90 343.31 L396.80 343.60 L401.70 343.78 L406.59 343.89 L411.49 343.96 L416.37 343.98 L421.25 343.96 L426.11 343.88 L430.96 343.76 L435.79 343.60 L440.60 343.39 L445.40 343.13 L450.16 342.82 L454.91 342.48 L459.62 342.08 L464.31 341.64 L468.96 341.16 L473.58 340.57 L478.16 339.89 L482.71 339.17 L487.22 338.40 L491.68 337.60 L496.10 336.75 L500.47 335.87 L504.80 334.94 L509.08 333.97 L513.30 332.96 L517.47 331.92 L521.59 330.83 L525.65 329.71 L529.65 328.56 L533.59 327.36 L537.47 326.14 L541.29 324.87 L545.04 323.58 L548.73 322.25 L552.35 320.89 L555.90 319.50 L559.39 318.08 L562.80 316.63 L566.15 315.15 L569.42 313.65 L572.62 312.06 L575.76 310.28 L578.82 308.48 L581.81 306.66 L584.72 304.81 L587.55 302.94 L590.31 301.05 L592.99 299.14 L595.59 297.21 L598.11 295.26 Z" fill="#E97C30" opacity="0.27"/>
<path d="M598.62 287.46 L596.10 289.25 L593.50 291.03 L590.82 292.78 L588.06 294.52 L585.23 296.23 L582.32 297.93 L579.33 299.60 L576.27 301.24 L573.13 302.87 L569.92 304.46 L566.63 306.03 L563.27 307.58 L559.84 309.09 L556.34 310.58 L552.78 312.03 L549.14 313.46 L545.44 314.86 L541.67 316.22 L537.84 317.55 L533.95 318.84 L529.99 320.10 L525.98 321.33 L521.90 322.52 L517.77 323.67 L513.59 324.79 L509.35 325.87 L505.06 326.91 L500.72 327.91 L496.34 328.87 L491.90 329.79 L487.43 330.66 L482.91 331.50 L478.35 332.29 L473.75 333.04 L469.12 333.75 L464.45 334.41 L459.76 335.03 L455.03 335.61 L450.27 336.14 L445.49 336.62 L440.69 337.06 L435.86 337.45 L431.02 337.80 L426.16 338.10 L421.29 338.35 L416.40 338.56 L411.51 338.72 L406.61 338.83 L401.70 338.90 L396.80 338.92 L391.89 338.89 L386.98 338.81 L382.08 338.68 L377.19 338.51 L372.31 338.29 L367.44 338.03 L362.58 337.71 L357.74 337.36 L352.92 336.95 L348.12 336.50 L348.16 338.54 L352.96 339.22 L357.78 339.85 L362.62 340.44 L367.47 340.97 L372.34 341.47 L377.22 341.91 L382.11 342.31 L387.00 342.66 L391.90 342.97 L396.80 343.22 L401.70 343.37 L406.59 343.46 L411.49 343.50 L416.37 343.50 L421.25 343.45 L426.11 343.35 L430.96 343.20 L435.80 343.01 L440.61 342.78 L445.41 342.49 L450.18 342.16 L454.92 341.79 L459.64 341.37 L464.32 340.90 L468.98 340.40 L473.60 339.79 L478.18 339.10 L482.73 338.37 L487.24 337.59 L491.70 336.78 L496.13 335.92 L500.50 335.02 L504.83 334.08 L509.10 333.11 L513.33 332.09 L517.50 331.03 L521.62 329.94 L525.68 328.81 L529.68 327.64 L533.63 326.44 L537.51 325.20 L541.33 323.93 L545.08 322.63 L548.77 321.29 L552.40 319.92 L555.95 318.52 L559.44 317.09 L562.86 315.63 L566.20 314.14 L569.47 312.63 L572.68 311.04 L575.81 309.28 L578.88 307.51 L581.86 305.70 L584.77 303.88 L587.61 302.03 L590.36 300.16 L593.04 298.27 L595.64 296.37 L598.16 294.44 Z" fill="#E97C30" opacity="0.27"/>
<path d="M598.62 287.46 L596.10 289.25 L593.50 291.03 L590.82 292.78 L588.06 294.52 L585.23 296.23 L582.32 297.93 L579.33 299.60 L576.27 301.24 L573.13 302.87 L569.92 304.46 L566.63 306.03 L563.27 307.58 L559.84 309.09 L556.34 310.58 L552.78 312.03 L549.14 313.46 L545.44 314.86 L541.67 316.22 L537.84 317.55 L533.95 318.84 L529.99 320.10 L525.98 321.33 L521.90 322.52 L517.77 323.67 L513.59 324.79 L509.35 325.87 L505.06 326.91 L500.72 327.91 L496.34 328.87 L491.90 329.79 L487.43 330.66 L482.91 331.50 L478.35 332.29 L473.75 333.04 L469.12 333.75 L464.45 334.41 L459.76 335.03 L455.03 335.61 L450.27 336.14 L445.49 336.62 L440.69 337.06 L435.86 337.45 L431.02 337.80 L426.16 338.10 L421.29 338.35 L416.40 338.56 L411.51 338.72 L406.61 338.83 L401.70 338.90 L396.80 338.92 L391.89 338.89 L386.98 338.81 L382.08 338.68 L377.19 338.51 L372.31 338.29 L367.44 338.03 L362.58 337.71 L357.74 337.36 L352.92 336.95 L348.12 336.50 L348.16 338.54 L352.96 339.18 L357.78 339.77 L362.62 340.32 L367.47 340.82 L372.34 341.28 L377.22 341.69 L382.10 342.05 L387.00 342.36 L391.90 342.63 L396.80 342.85 L401.70 342.97 L406.60 343.03 L411.49 343.05 L416.38 343.02 L421.25 342.94 L426.12 342.82 L430.97 342.65 L435.80 342.43 L440.62 342.17 L445.41 341.86 L450.19 341.50 L454.93 341.10 L459.65 340.66 L464.34 340.17 L468.99 339.63 L473.62 339.01 L478.20 338.31 L482.75 337.57 L487.26 336.78 L491.73 335.96 L496.15 335.09 L500.53 334.18 L504.86 333.23 L509.13 332.24 L513.36 331.22 L517.54 330.15 L521.65 329.05 L525.72 327.91 L529.72 326.73 L533.67 325.52 L537.55 324.27 L541.37 322.99 L545.13 321.68 L548.82 320.33 L552.44 318.95 L556.00 317.54 L559.49 316.10 L562.91 314.63 L566.25 313.13 L569.53 311.61 L572.73 310.02 L575.87 308.29 L578.93 306.53 L581.92 304.75 L584.83 302.94 L587.66 301.12 L590.42 299.27 L593.10 297.40 L595.70 295.52 L598.22 293.61 Z" fill="#E97C30" opacity="0.27"/>
<path d="M598.62 287.46 L596.10 289.25 L593.50 291.03 L590.82 292.78 L588.06 294.52 L585.23 296.23 L582.32 297.93 L579.33 299.60 L576.27 301.24 L573.13 302.87 L569.92 304.46 L566.63 306.03 L563.27 307.58 L559.84 309.09 L556.34 310.58 L552.78 312.03 L549.14 313.46 L545.44 314.86 L541.67 316.22 L537.84 317.55 L533.95 318.84 L529.99 320.10 L525.98 321.33 L521.90 322.52 L517.77 323.67 L513.59 324.79 L509.35 325.87 L505.06 326.91 L500.72 327.91 L496.34 328.87 L491.90 329.79 L487.43 330.66 L482.91 331.50 L478.35 332.29 L473.75 333.04 L469.12 333.75 L464.45 334.41 L459.76 335.03 L455.03 335.61 L450.27 336.14 L445.49 336.62 L440.69 337.06 L435.86 337.45 L431.02 337.80 L426.16 338.10 L421.29 338.35 L416.40 338.56 L411.51 338.72 L406.61 338.83 L401.70 338.90 L396.80 338.92 L391.89 338.89 L386.98 338.81 L382.08 338.68 L377.19 338.51 L372.31 338.29 L367.44 338.03 L362.58 337.71 L357.74 337.36 L352.92 336.95 L348.12 336.50 L348.16 338.54 L352.96 339.14 L357.78 339.70 L362.62 340.21 L367.47 340.67 L372.34 341.09 L377.22 341.46 L382.10 341.78 L387.00 342.06 L391.90 342.29 L396.80 342.47 L401.70 342.56 L406.60 342.60 L411.49 342.59 L416.38 342.54 L421.26 342.43 L426.12 342.28 L430.98 342.09 L435.81 341.85 L440.63 341.56 L445.42 341.22 L450.20 340.84 L454.94 340.42 L459.66 339.94 L464.35 339.43 L469.01 338.87 L473.63 338.23 L478.22 337.52 L482.77 336.77 L487.28 335.97 L491.75 335.14 L496.18 334.26 L500.55 333.34 L504.88 332.38 L509.16 331.38 L513.39 330.34 L517.57 329.27 L521.69 328.16 L525.75 327.01 L529.76 325.82 L533.70 324.60 L537.59 323.34 L541.41 322.05 L545.17 320.72 L548.86 319.37 L552.49 317.98 L556.05 316.56 L559.54 315.11 L562.96 313.63 L566.31 312.12 L569.58 310.59 L572.79 309.00 L575.93 307.29 L578.99 305.55 L581.97 303.79 L584.88 302.01 L587.72 300.21 L590.47 298.38 L593.15 296.54 L595.75 294.67 L598.27 292.79 Z" fill="#E97C30" opacity="0.27"/>
<path d="M598.62 287.46 L596.10 289.25 L593.50 291.03 L590.82 292.78 L588.06 294.52 L585.23 296.23 L582.32 297.93 L579.33 299.60 L576.27 301.24 L573.13 302.87 L569.92 304.46 L566.63 306.03 L563.27 307.58 L559.84 309.09 L556.34 310.58 L552.78 312.03 L549.14 313.46 L545.44 314.86 L541.67 316.22 L537.84 317.55 L533.95 318.84 L529.99 320.10 L525.98 321.33 L521.90 322.52 L517.77 323.67 L513.59 324.79 L509.35 325.87 L505.06 326.91 L500.72 327.91 L496.34 328.87 L491.90 329.79 L487.43 330.66 L482.91 331.50 L478.35 332.29 L473.75 333.04 L469.12 333.75 L464.45 334.41 L459.76 335.03 L455.03 335.61 L450.27 336.14 L445.49 336.62 L440.69 337.06 L435.86 337.45 L431.02 337.80 L426.16 338.10 L421.29 338.35 L416.40 338.56 L411.51 338.72 L406.61 338.83 L401.70 338.90 L396.80 338.92 L391.89 338.89 L386.98 338.81 L382.08 338.68 L377.19 338.51 L372.31 338.29 L367.44 338.03 L362.58 337.71 L357.74 337.36 L352.92 336.95 L348.12 336.50 L348.16 338.54 L352.96 339.10 L357.78 339.62 L362.62 340.10 L367.47 340.52 L372.34 340.90 L377.21 341.23 L382.10 341.52 L387.00 341.76 L391.90 341.95 L396.80 342.09 L401.70 342.16 L406.60 342.17 L411.49 342.14 L416.38 342.06 L421.26 341.93 L426.13 341.75 L430.98 341.53 L435.82 341.26 L440.64 340.95 L445.43 340.59 L450.21 340.18 L454.96 339.73 L459.68 339.23 L464.37 338.69 L469.03 338.10 L473.65 337.45 L478.24 336.73 L482.79 335.97 L487.31 335.16 L491.77 334.31 L496.20 333.43 L500.58 332.50 L504.91 331.53 L509.19 330.52 L513.42 329.47 L517.60 328.39 L521.72 327.26 L525.79 326.10 L529.80 324.91 L533.74 323.67 L537.63 322.41 L541.45 321.11 L545.21 319.77 L548.91 318.41 L552.54 317.01 L556.10 315.58 L559.59 314.12 L563.01 312.63 L566.36 311.12 L569.64 309.57 L572.85 307.98 L575.98 306.29 L579.04 304.58 L582.03 302.84 L584.94 301.08 L587.77 299.30 L590.53 297.49 L593.21 295.67 L595.80 293.82 L598.32 291.96 Z" fill="#E97C30" opacity="0.27"/>
<path d="M598.62 287.46 L596.10 289.25 L593.50 291.03 L590.82 292.78 L588.06 294.52 L585.23 296.23 L582.32 297.93 L579.33 299.60 L576.27 301.24 L573.13 302.87 L569.92 304.46 L566.63 306.03 L563.27 307.58 L559.84 309.09 L556.34 310.58 L552.78 312.03 L549.14 313.46 L545.44 314.86 L541.67 316.22 L537.84 317.55 L533.95 318.84 L529.99 320.10 L525.98 321.33 L521.90 322.52 L517.77 323.67 L513.59 324.79 L509.35 325.87 L505.06 326.91 L500.72 327.91 L496.34 328.87 L491.90 329.79 L487.43 330.66 L482.91 331.50 L478.35 332.29 L473.75 333.04 L469.12 333.75 L464.45 334.41 L459.76 335.03 L455.03 335.61 L450.27 336.14 L445.49 336.62 L440.69 337.06 L435.86 337.45 L431.02 337.80 L426.16 338.10 L421.29 338.35 L416.40 338.56 L411.51 338.72 L406.61 338.83 L401.70 338.90 L396.80 338.92 L391.89 338.89 L386.98 338.81 L382.08 338.68 L377.19 338.51 L372.31 338.29 L367.44 338.03 L362.58 337.71 L357.74 337.36 L352.92 336.95 L348.12 336.50 L348.16 338.54 L352.96 339.07 L357.78 339.55 L362.61 339.98 L367.47 340.37 L372.33 340.71 L377.21 341.01 L382.10 341.26 L386.99 341.46 L391.89 341.61 L396.80 341.72 L401.70 341.75 L406.60 341.74 L411.50 341.68 L416.38 341.57 L421.26 341.42 L426.13 341.22 L430.99 340.97 L435.82 340.68 L440.64 340.34 L445.44 339.95 L450.22 339.52 L454.97 339.04 L459.69 338.52 L464.38 337.95 L469.04 337.34 L473.67 336.67 L478.26 335.94 L482.81 335.16 L487.33 334.35 L491.80 333.49 L496.23 332.59 L500.61 331.66 L504.94 330.68 L509.22 329.66 L513.45 328.60 L517.63 327.50 L521.76 326.37 L525.82 325.20 L529.83 323.99 L533.78 322.75 L537.67 321.47 L541.50 320.16 L545.26 318.82 L548.95 317.44 L552.58 316.04 L556.15 314.60 L559.64 313.13 L563.06 311.63 L566.41 310.11 L569.69 308.55 L572.90 306.96 L576.04 305.29 L579.10 303.60 L582.09 301.88 L585.00 300.14 L587.83 298.38 L590.58 296.60 L593.26 294.80 L595.86 292.98 L598.38 291.14 Z" fill="#E97C30" opacity="0.27"/>
<path d="M598.62 287.46 L596.10 289.25 L593.50 291.03 L590.82 292.78 L588.06 294.52 L585.23 296.23 L582.32 297.93 L579.33 299.60 L576.27 301.24 L573.13 302.87 L569.92 304.46 L566.63 306.03 L563.27 307.58 L559.84 309.09 L556.34 310.58 L552.78 312.03 L549.14 313.46 L545.44 314.86 L541.67 316.22 L537.84 317.55 L533.95 318.84 L529.99 320.10 L525.98 321.33 L521.90 322.52 L517.77 323.67 L513.59 324.79 L509.35 325.87 L505.06 326.91 L500.72 327.91 L496.34 328.87 L491.90 329.79 L487.43 330.66 L482.91 331.50 L478.35 332.29 L473.75 333.04 L469.12 333.75 L464.45 334.41 L459.76 335.03 L455.03 335.61 L450.27 336.14 L445.49 336.62 L440.69 337.06 L435.86 337.45 L431.02 337.80 L426.16 338.10 L421.29 338.35 L416.40 338.56 L411.51 338.72 L406.61 338.83 L401.70 338.90 L396.80 338.92 L391.89 338.89 L386.98 338.81 L382.08 338.68 L377.19 338.51 L372.31 338.29 L367.44 338.03 L362.58 337.71 L357.74 337.36 L352.92 336.95 L348.12 336.50 L348.16 338.54 L352.96 339.03 L357.78 339.47 L362.61 339.87 L367.47 340.22 L372.33 340.52 L377.21 340.78 L382.10 340.99 L386.99 341.15 L391.89 341.27 L396.80 341.34 L401.70 341.35 L406.60 341.31 L411.50 341.23 L416.39 341.09 L421.27 340.91 L426.14 340.69 L430.99 340.41 L435.83 340.09 L440.65 339.73 L445.45 339.32 L450.23 338.86 L454.98 338.36 L459.70 337.81 L464.40 337.21 L469.06 336.58 L473.69 335.89 L478.28 335.15 L482.84 334.36 L487.35 333.54 L491.82 332.67 L496.25 331.76 L500.63 330.81 L504.97 329.82 L509.25 328.80 L513.49 327.73 L517.67 326.62 L521.79 325.48 L525.86 324.30 L529.87 323.08 L533.82 321.83 L537.71 320.54 L541.54 319.22 L545.30 317.87 L549.00 316.48 L552.63 315.06 L556.19 313.62 L559.69 312.14 L563.11 310.63 L566.47 309.10 L569.75 307.53 L572.96 305.94 L576.09 304.29 L579.16 302.62 L582.14 300.93 L585.05 299.21 L587.88 297.47 L590.64 295.71 L593.31 293.93 L595.91 292.13 L598.43 290.31 Z" fill="#E97C30" opacity="0.27"/>
</g>
<path d="M417.40 342.37 L412.55 342.53 L407.69 342.65 L402.83 342.72 L397.96 342.75 L393.09 342.73 L388.23 342.66 L383.37 342.55 L378.51 342.39 L373.67 342.19 L368.83 341.93 L364.02 341.64 L359.21 341.29 L354.43 340.90 L349.66 340.47 L344.92 339.99 L340.20 339.46 L335.51 338.89 L330.85 338.28 L326.21 337.62 L321.62 336.92 L317.05 336.18 L312.53 335.39 L308.04 334.56 L303.60 333.70 L299.20 332.78 L294.84 331.83 L290.53 330.84 L286.27 329.82 L282.06 328.75 L277.90 327.64 L273.80 326.50 L269.75 325.32 L265.76 324.11 L261.83 322.86 L257.95 321.57 L254.14 320.25 L250.39 318.90" fill="none" stroke="url(#gOrHi)" stroke-width="4.2" stroke-linecap="butt" filter="url(#b1)"/>
</g>
<g font-family="Liberation Sans, sans-serif" font-weight="bold" opacity="0.999">
<text x="31.3" y="26.8" textLength="29.8" lengthAdjust="spacingAndGlyphs" font-size="12.6" fill="#000">Total</text>
<text x="65.7" y="26.8" textLength="39.8" lengthAdjust="spacingAndGlyphs" font-size="12.6" fill="#000">patent</text>
<text x="109.4" y="26.8" textLength="73.2" lengthAdjust="spacingAndGlyphs" font-size="12.6" fill="#000">applciations</text>
<text x="186.1" y="26.8" textLength="25.0" lengthAdjust="spacingAndGlyphs" font-size="12.6" fill="#000">filed</text>
<text x="216.3" y="26.8" textLength="14.5" lengthAdjust="spacingAndGlyphs" font-size="12.6" fill="#000">by</text>
<text x="234.7" y="26.8" textLength="20.3" lengthAdjust="spacingAndGlyphs" font-size="12.6" fill="#000">IISc</text>
<text x="259.0" y="26.8" textLength="40.5" lengthAdjust="spacingAndGlyphs" font-size="12.6" fill="#000">faculty</text>
<text x="304.2" y="26.8" textLength="56.4" lengthAdjust="spacingAndGlyphs" font-size="12.6" fill="#000">members</text>
<text x="364.7" y="26.8" textLength="47.4" lengthAdjust="spacingAndGlyphs" font-size="12.6" fill="#000">through</text>
<text x="416.2" y="26.8" textLength="32.5" lengthAdjust="spacingAndGlyphs" font-size="12.6" fill="#000">IPTeL</text>
<text x="452.9" y="26.8" textLength="40.0" lengthAdjust="spacingAndGlyphs" font-size="12.6" fill="#000">(1995-</text>
<text x="495.8" y="26.8" textLength="36.2" lengthAdjust="spacingAndGlyphs" font-size="12.6" fill="#000">2021):</text>
<text x="537.2" y="26.8" textLength="28.7" lengthAdjust="spacingAndGlyphs" font-size="12.6" fill="#000">1133</text>
<text x="246.9" y="92.9" textLength="127.0" lengthAdjust="spacingAndGlyphs" font-size="11.6" fill="#0070C0">No. of PCT applications</text>
<text x="283.8" y="108.6" textLength="52.4" lengthAdjust="spacingAndGlyphs" font-size="11.6" fill="#0070C0">Filed, 168</text>
<text x="526.5" y="102.9" textLength="70.7" lengthAdjust="spacingAndGlyphs" font-size="11.6" fill="#C66BDE">No. of Indian</text>
<text x="501.1" y="118.6" textLength="121.5" lengthAdjust="spacingAndGlyphs" font-size="11.6" fill="#C66BDE">Applications filed, 651</text>
<text x="70.1" y="136.8" textLength="123.0" lengthAdjust="spacingAndGlyphs" font-size="11.6" fill="#70AD47">No. of Foreign Patents</text>
<text x="106.1" y="152.8" textLength="50.8" lengthAdjust="spacingAndGlyphs" font-size="11.6" fill="#70AD47">filed, 314</text>
<text x="39.9" y="216.6" textLength="85.2" lengthAdjust="spacingAndGlyphs" font-size="11.6" fill="#002060">No. Abandoned</text>
<text x="30.6" y="232.6" textLength="103.8" lengthAdjust="spacingAndGlyphs" font-size="11.6" fill="#002060">during Prosecution</text>
<text x="55.7" y="248.6" textLength="53.6" lengthAdjust="spacingAndGlyphs" font-size="11.6" fill="#002060">at IPO, 52</text>
<text x="18.6" y="318" textLength="116.2" lengthAdjust="spacingAndGlyphs" font-size="11.6" fill="#BF9000">No. of Indian Patents</text>
<text x="25" y="334" textLength="102.6" lengthAdjust="spacingAndGlyphs" font-size="11.6" fill="#BF9000">Ceased/Lapsed, 52</text>
<text x="117.2" y="369.7" textLength="116.3" lengthAdjust="spacingAndGlyphs" font-size="11.6" fill="#595959">No. of Indian Patents</text>
<text x="112.9" y="385.6" textLength="124.0" lengthAdjust="spacingAndGlyphs" font-size="11.6" fill="#595959">Granted and alive, 146</text>
<text x="443.7" y="411.9" textLength="77.2" lengthAdjust="spacingAndGlyphs" font-size="11.6" fill="#ED7D31">No. under IPO</text>
<text x="436.2" y="427.8" textLength="92.3" lengthAdjust="spacingAndGlyphs" font-size="11.6" fill="#ED7D31">Prosecution, 394</text>
</g>
</svg>
<div id="frame"></div>
</body></html>
